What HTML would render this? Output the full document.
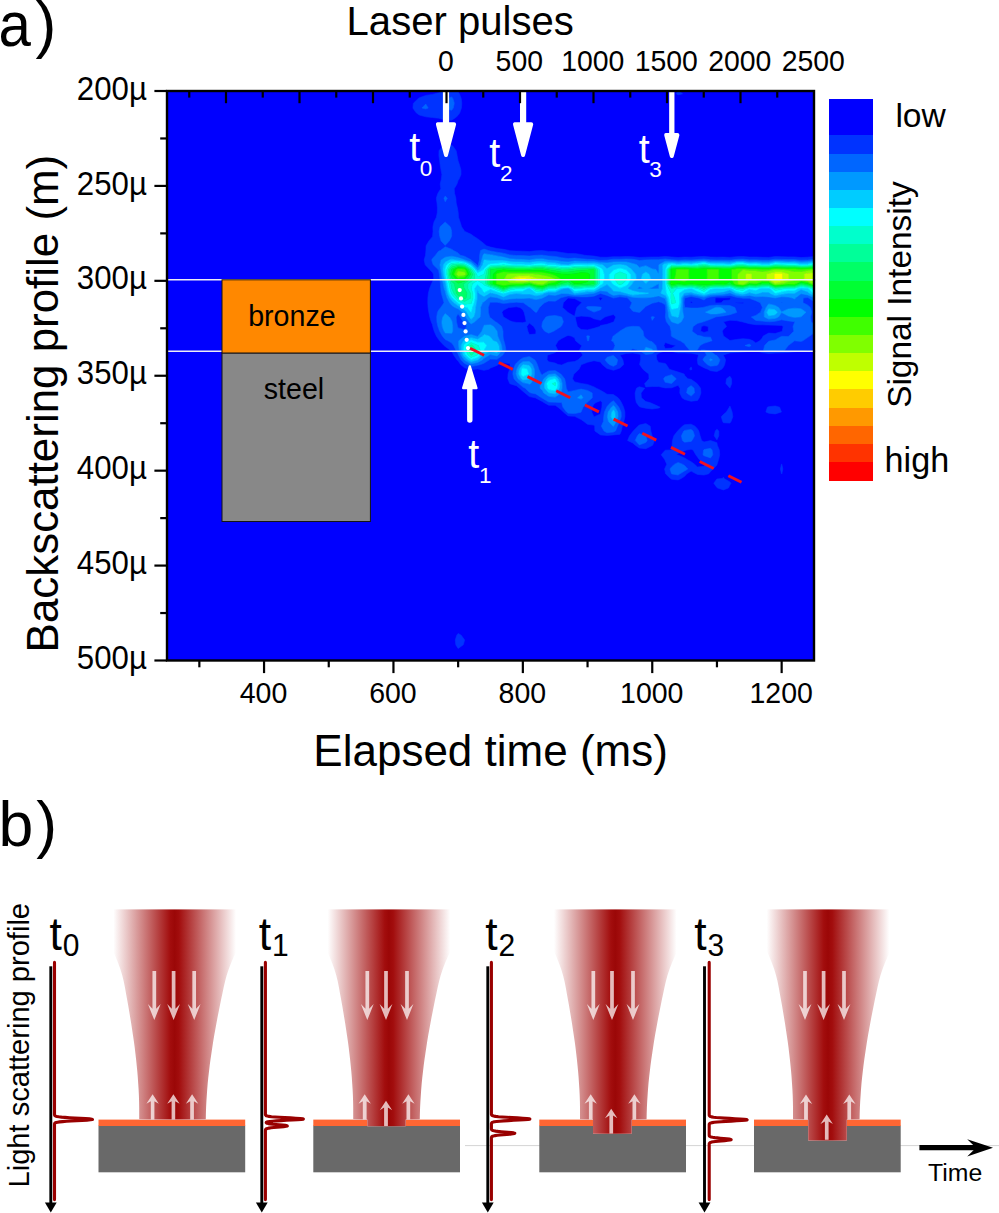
<!DOCTYPE html>
<html lang="en">
<head>
<meta charset="utf-8">
<title>Laser drilling backscattering figure</title>
<style>
html,body{margin:0;padding:0;background:#fff;}
body{width:999px;height:1213px;overflow:hidden;}
svg{display:block;}
text{font-family:"Liberation Sans", Arial, Helvetica, sans-serif;}
</style>
</head>
<body>
<svg width="999" height="1213" viewBox="0 0 999 1213">
<rect x="167.0" y="91.0" width="647.0" height="569.5" fill="#0000ff"/>
<clipPath id="plotclip"><rect x="167.0" y="91.0" width="647.0" height="569.5"/></clipPath>
<g clip-path="url(#plotclip)" fill-rule="evenodd" stroke-width="0.6" stroke-linejoin="round">
<path fill="#0033ff" stroke="#0033ff" d="M438.7,92.7 445.1,89.0 445.2,89.0 451.7,89.0 455.0,89.0 458.1,91.8 459.4,93.8 461.2,98.5 461.8,103.2 461.4,108.0 459.8,112.8 458.1,115.3 455.8,117.5 451.7,120.2 445.2,119.9 438.7,118.2 432.3,117.5 432.3,117.5 425.8,116.8 419.3,115.0 416.2,112.8 412.9,108.0 412.8,108.0 412.9,107.9 413.4,103.2 418.3,98.5 419.3,97.8 425.8,95.4 432.3,94.4 434.9,93.8ZM447.9,98.5 445.2,100.7 443.4,103.2 444.4,108.0 445.2,108.6 451.7,110.3 453.3,108.0 454.3,103.2 452.9,98.5 451.7,96.9ZM421.9,108.0 425.8,109.0 428.2,108.0 425.8,104.0ZM678.1,90.3 682.6,93.8 678.1,94.9 676.3,93.8ZM445.2,144.5 451.7,145.2 452.8,146.0 456.2,150.8 457.1,155.5 458.0,160.2 458.1,160.8 459.5,165.0 460.9,169.8 461.0,174.5 459.0,179.2 458.1,180.6 457.0,184.0 454.2,188.8 454.6,193.5 455.9,198.2 456.2,203.0 457.4,207.8 458.1,212.0 458.2,212.5 458.5,217.2 460.1,222.0 461.6,226.8 464.6,231.2 465.0,231.5 471.1,234.3 473.8,236.3 477.6,238.7 480.7,241.0 484.0,243.7 486.4,245.8 490.5,247.1 497.0,248.5 503.4,249.3 509.2,250.5 509.9,250.7 516.4,251.1 522.8,251.2 529.3,251.6 535.8,250.8 542.3,250.6 548.7,251.4 555.2,251.5 561.7,252.5 568.1,253.5 574.6,253.4 581.1,254.5 584.5,255.2 587.5,255.6 594.0,256.1 600.5,257.2 607.0,257.3 613.4,256.7 619.9,256.8 626.4,256.5 632.8,256.7 639.3,257.5 645.8,257.2 652.2,257.0 658.7,257.0 665.2,256.5 671.7,257.0 678.1,257.5 684.6,257.1 691.1,257.2 697.5,256.8 704.0,256.4 710.5,257.1 716.9,257.2 723.4,257.1 729.9,257.4 736.4,256.7 742.8,256.5 749.3,257.1 755.8,257.0 762.2,257.3 768.7,257.4 775.2,256.6 781.6,256.7 788.1,256.9 794.6,256.9 801.1,257.6 807.5,257.2 814.0,256.6 817.6,260.0 819.4,264.8 819.9,269.5 820.0,274.2 820.0,279.0 820.0,283.8 819.5,288.5 820.5,290.2 820.5,291.9 818.5,288.5 819.4,283.8 819.5,279.0 819.5,274.2 819.4,269.5 818.4,264.8 814.8,260.0 814.0,259.3 807.7,260.0 807.5,260.0 801.1,260.2 798.0,260.0 794.6,259.6 788.1,259.6 781.6,259.4 775.2,259.2 769.9,260.0 768.7,260.1 762.2,260.1 760.1,260.0 755.8,259.7 749.3,259.8 742.8,259.1 736.4,259.3 731.3,260.0 729.9,260.1 725.6,260.0 723.4,259.9 716.9,260.0 710.5,259.8 704.0,259.0 697.5,259.5 691.1,260.0 684.6,259.8 682.0,260.0 678.1,260.2 675.3,260.0 671.7,259.7 665.2,259.0 658.7,259.7 652.2,259.7 645.8,259.9 644.4,260.0 639.3,260.6 637.2,260.0 632.8,259.3 626.4,259.0 619.9,259.3 613.4,259.2 608.2,260.0 607.0,260.2 600.5,260.4 596.3,260.0 594.0,259.6 587.5,259.3 581.1,258.7 574.6,258.1 568.1,258.6 561.7,257.7 555.2,256.4 548.7,256.0 543.0,255.2 542.3,255.1 537.9,255.2 535.8,255.3 529.3,256.0 522.8,255.6 516.4,255.5 513.7,255.2 509.9,254.9 503.4,253.2 497.0,252.2 490.5,251.0 488.6,250.5 484.0,249.1 480.5,250.5 479.6,255.2 479.5,260.0 478.1,264.8 477.6,265.4 477.0,264.8 471.2,260.0 471.1,259.8 464.6,256.3 460.4,255.2 458.1,252.9 453.6,250.5 451.7,249.2 445.2,246.8 440.4,250.5 438.7,251.0 435.4,255.2 432.3,258.7 431.7,260.0 432.3,262.0 433.2,264.8 438.1,269.5 438.7,270.4 439.4,274.2 439.9,279.0 440.4,283.8 440.7,288.5 441.3,293.2 442.7,298.0 444.0,302.8 440.7,307.5 438.7,310.0 437.5,312.2 436.7,317.0 436.9,321.8 437.9,326.5 438.7,328.7 439.6,331.2 442.3,336.0 445.2,339.5 447.9,340.8 451.7,343.0 453.5,345.5 455.9,350.2 458.1,353.9 458.5,355.0 460.9,359.8 464.6,363.5 466.7,364.5 471.1,366.5 477.6,365.3 480.7,364.5 484.0,363.2 489.4,359.8 490.5,359.1 497.0,359.3 502.9,355.0 503.4,354.1 505.9,350.2 505.2,345.5 503.9,340.8 503.4,338.9 503.0,336.0 503.0,331.2 501.7,326.5 497.0,322.6 495.5,321.8 490.5,317.8 489.6,317.0 488.4,312.2 488.3,307.5 489.9,302.8 490.5,302.3 497.0,302.2 499.8,302.8 503.4,303.5 509.9,302.8 510.1,302.8 516.4,302.2 522.8,302.7 523.3,302.8 529.3,307.0 530.1,307.5 535.4,312.2 535.8,312.6 536.7,312.2 539.5,307.5 542.3,304.7 544.7,302.8 548.7,301.0 555.2,301.2 560.6,298.0 561.7,297.6 568.1,295.9 574.6,296.6 581.1,296.9 587.5,296.9 594.0,296.2 600.5,293.4 607.0,295.4 613.4,298.0 619.9,296.8 626.4,297.6 627.7,298.0 631.9,302.8 629.8,307.5 632.8,311.2 637.7,312.2 639.3,312.4 640.0,312.2 644.9,307.5 645.8,306.4 652.2,303.2 654.3,302.8 658.7,301.7 661.9,302.8 665.2,304.7 665.6,307.5 665.7,312.3 665.3,317.0 666.4,321.8 670.0,326.5 671.1,331.2 671.3,336.0 671.7,336.5 678.1,340.1 680.2,340.8 684.6,343.7 685.6,345.5 689.6,350.2 691.1,350.5 696.3,350.2 697.5,349.7 700.0,345.5 704.0,343.3 710.5,341.2 712.0,340.8 710.5,337.2 704.0,337.0 701.5,336.0 697.5,335.3 692.1,331.2 693.1,326.5 697.5,323.4 703.5,321.8 704.0,321.6 710.5,319.2 715.6,317.0 716.9,316.7 723.4,315.9 729.9,314.7 736.4,312.6 736.9,312.2 736.4,311.3 734.9,307.5 729.9,305.6 723.4,305.2 717.0,305.1 710.5,305.4 704.0,307.2 702.3,307.5 697.5,308.1 691.1,308.1 685.7,307.5 684.6,307.2 684.1,302.8 684.6,298.2 684.7,298.0 691.1,296.5 697.5,297.7 699.1,298.0 704.0,300.0 706.7,298.0 710.5,296.9 716.9,296.2 723.4,296.1 729.9,295.4 736.4,297.3 741.8,298.0 742.8,298.3 749.3,298.3 755.8,300.7 760.3,302.8 762.2,306.9 762.3,307.5 762.2,308.0 760.5,312.2 755.8,315.4 751.3,317.0 755.8,320.4 762.2,321.1 768.3,321.8 768.7,321.8 769.0,321.8 775.2,321.3 781.6,319.8 788.1,320.9 794.6,321.7 795.2,321.8 794.6,322.3 793.0,326.5 793.8,331.2 789.0,336.0 788.1,336.6 781.6,336.3 775.2,339.9 771.0,340.8 768.7,341.3 764.6,345.5 763.5,350.2 768.7,351.5 775.2,351.1 781.6,350.6 784.8,350.2 788.1,345.8 788.3,345.5 794.6,340.8 801.1,341.4 802.8,340.8 807.5,337.6 809.8,336.0 814.0,333.0 817.0,331.2 818.1,326.5 814.0,323.9 811.1,321.8 810.5,317.0 811.7,312.2 810.4,307.5 807.5,304.9 803.0,302.8 803.2,298.0 807.5,297.6 808.5,298.0 814.0,301.6 820.5,301.2 820.5,302.8 820.5,307.5 820.5,309.5 819.5,312.2 820.0,317.0 820.5,317.6 820.5,321.8 820.5,326.5 820.5,331.2 820.5,336.0 820.5,340.8 820.5,345.5 820.5,350.2 820.5,350.9 814.0,350.6 807.5,350.3 801.1,351.2 794.6,351.8 788.1,352.4 781.6,352.8 775.2,353.0 768.7,353.4 762.2,352.6 755.8,350.5 749.3,351.4 742.8,352.1 736.4,352.4 729.9,352.9 723.4,354.9 723.3,355.0 723.4,355.3 725.6,359.8 724.7,364.5 723.4,367.2 721.7,369.2 716.9,371.6 710.5,370.7 707.7,369.2 704.0,367.8 698.0,364.5 697.5,361.4 697.3,359.8 697.5,359.1 698.5,355.0 697.5,354.4 691.1,353.2 684.6,352.9 678.1,352.9 671.7,351.4 665.2,350.8 658.7,353.2 656.2,355.0 656.9,359.8 658.7,362.6 665.2,363.4 666.3,364.5 669.3,369.2 671.7,370.0 678.1,372.0 684.1,374.0 684.6,375.3 687.8,378.8 691.1,379.3 697.0,383.5 697.5,384.1 700.5,388.2 700.9,393.0 699.3,397.8 697.5,400.4 691.1,401.3 684.6,399.5 682.0,397.8 679.8,393.0 680.0,388.2 678.1,385.3 671.7,387.8 665.2,387.9 658.7,386.5 652.2,386.5 645.8,386.9 644.6,383.5 645.8,382.6 649.0,378.8 648.8,374.0 645.8,371.7 642.9,369.2 639.6,364.5 640.6,359.8 640.7,355.0 639.3,354.1 632.8,353.0 626.4,353.4 619.9,355.0 622.9,359.8 623.7,364.5 619.9,368.1 616.7,369.2 613.4,370.3 610.0,369.2 607.0,368.5 602.2,364.5 600.5,362.0 594.0,360.7 587.5,362.3 581.7,364.5 581.1,365.1 579.0,369.2 574.6,373.6 573.8,374.0 572.5,378.8 574.6,381.9 581.1,383.4 581.4,383.5 587.5,384.4 594.0,386.9 596.3,388.2 600.5,390.3 605.2,393.0 607.0,394.3 613.4,394.6 618.1,397.8 619.9,400.0 621.4,402.5 623.6,407.2 624.9,412.0 624.9,416.8 623.8,421.5 622.3,426.2 621.3,431.0 619.9,434.3 613.4,434.9 607.0,435.4 600.5,434.9 594.9,431.0 594.7,426.2 594.0,425.1 587.5,424.3 583.9,421.5 581.1,419.5 575.6,416.8 574.6,416.3 568.1,415.9 563.3,412.0 561.7,410.3 557.9,407.2 555.2,405.3 548.7,405.2 543.8,402.5 542.3,401.5 535.8,398.1 535.2,397.8 529.3,396.6 525.0,393.0 522.8,391.2 519.5,388.2 516.4,385.7 509.9,383.7 509.7,383.5 507.8,378.8 508.1,374.0 509.6,369.2 509.9,367.0 510.0,364.5 509.9,363.8 503.4,362.7 498.3,364.5 497.0,365.4 490.5,368.0 489.0,369.2 484.0,370.3 478.9,369.2 477.6,369.0 475.3,369.2 471.1,370.0 469.3,369.2 464.6,367.8 460.6,364.5 458.2,361.1 456.9,359.8 453.6,355.0 451.7,351.2 450.4,350.2 445.2,346.5 444.0,345.5 439.6,340.8 438.7,339.5 436.3,336.0 434.2,331.2 432.8,326.5 432.3,324.3 431.2,321.8 429.8,317.0 428.8,312.2 428.1,307.5 427.8,302.8 427.9,298.0 428.4,293.2 429.6,288.5 431.5,283.8 432.3,282.1 433.7,279.0 433.5,274.2 432.3,272.3 429.7,269.5 425.8,265.5 425.2,264.8 424.2,260.0 425.5,255.2 425.8,252.1 425.9,250.5 426.1,245.8 428.9,241.0 432.3,236.9 432.6,236.2 433.0,231.5 432.9,226.8 434.0,222.0 436.4,217.2 437.3,212.5 437.4,207.8 437.0,203.0 436.3,198.2 437.8,193.5 438.7,192.0 440.8,188.8 440.2,184.0 441.3,179.2 441.9,174.5 441.0,169.8 440.2,165.0 439.6,160.2 438.9,155.5 439.0,150.8 442.6,146.0ZM443.9,198.2 445.2,201.8 447.4,198.2 445.2,196.1ZM440.0,226.8 439.1,231.5 439.7,236.2 441.1,241.0 445.2,245.4 449.3,241.0 451.7,236.2 451.7,234.8 451.7,231.5 451.7,231.3 450.4,226.8 445.2,222.0ZM598.5,298.0 600.5,300.8 602.6,298.0 600.5,297.3ZM715.1,298.0 715.2,302.8 716.9,302.9 721.2,302.8 723.4,300.6 729.9,299.9 730.6,298.0 729.9,297.8 723.4,297.9 716.9,297.8ZM563.3,302.8 562.6,307.5 567.8,312.2 568.1,312.5 574.6,316.3 575.5,312.2 576.8,307.5 581.1,303.3 582.0,302.8 581.1,302.1 574.6,298.6 568.1,298.0ZM690.4,302.8 691.1,303.1 692.8,302.8 691.1,301.3ZM734.9,302.8 736.4,302.9 742.8,303.5 744.0,302.8 742.8,302.5 736.4,302.5ZM508.8,307.5 503.4,310.3 501.9,312.2 503.4,316.8 503.6,317.0 509.9,320.8 512.7,321.8 516.4,322.4 522.8,322.7 526.2,321.8 525.3,317.0 524.1,312.2 522.8,309.7 520.0,307.5 516.4,306.8 509.9,307.4ZM586.2,307.5 587.5,309.1 594.0,312.1 600.5,309.8 601.4,307.5 600.5,307.1 594.0,306.4 587.5,306.6ZM754.1,307.5 755.8,307.6 755.8,307.5 755.8,307.4ZM545.9,317.0 542.6,321.8 542.3,322.9 541.8,326.5 542.3,327.9 544.6,331.2 548.7,333.2 553.7,331.2 555.2,330.3 561.1,326.5 561.7,325.7 563.4,321.8 561.7,317.0 561.7,317.0 555.2,315.4 548.7,316.1ZM575.2,317.0 576.2,321.8 577.4,326.5 581.1,329.6 587.5,329.9 594.0,328.3 599.7,326.5 600.5,325.5 607.0,324.3 613.4,322.1 613.8,321.8 615.8,317.0 613.4,314.5 607.0,316.3 604.9,317.0 600.5,320.3 594.0,318.8 590.5,317.0 587.5,316.5 581.1,316.1ZM651.2,317.0 652.2,320.4 654.5,317.0 652.2,316.5ZM723.5,321.8 726.6,326.5 723.4,329.3 722.3,331.2 723.4,335.8 723.5,336.0 729.9,340.5 736.4,339.5 742.8,338.7 749.3,339.3 753.0,340.8 755.8,343.0 759.8,340.8 762.2,338.1 763.2,336.0 768.7,333.1 775.2,333.5 781.6,331.5 782.2,331.2 783.2,326.5 781.6,325.5 775.2,325.2 768.7,325.0 762.2,324.8 755.8,324.7 749.3,323.7 742.8,321.9 741.9,321.8 736.4,320.6 729.9,320.2ZM526.8,326.5 527.9,331.2 529.3,334.6 535.8,334.0 535.9,331.2 535.8,330.1 533.7,326.5 529.3,323.0ZM630.6,326.5 626.4,327.2 619.9,331.1 619.8,331.2 613.4,335.9 613.1,336.0 611.5,340.8 613.4,341.7 615.0,345.5 613.4,349.8 612.1,350.2 613.4,351.1 619.9,351.0 626.4,350.7 630.2,350.2 632.8,348.8 638.2,350.2 639.3,350.4 645.8,354.6 652.2,353.7 657.1,350.2 655.9,345.5 652.2,341.7 649.1,340.8 645.8,338.3 643.8,336.0 643.1,331.2 639.3,326.5 638.6,326.5 632.8,326.3ZM701.4,326.5 700.7,331.2 704.0,332.4 708.3,331.2 708.2,326.5 704.0,325.6ZM566.6,336.0 561.7,338.5 558.2,340.8 555.5,345.5 557.8,350.2 555.2,352.6 548.7,354.7 547.4,355.0 547.1,359.8 548.7,361.8 555.2,363.1 558.0,364.5 561.7,365.1 562.8,364.5 568.1,362.2 574.6,361.5 578.2,359.8 581.1,356.9 582.9,355.0 581.1,352.6 579.4,350.2 581.1,347.0 581.8,345.5 581.1,345.2 575.6,340.8 574.6,337.8 571.1,336.0 568.1,335.4ZM586.7,336.0 587.5,340.8 587.5,340.8 588.6,340.8 589.5,336.0 587.5,335.7ZM663.9,345.5 665.2,348.5 671.7,348.1 676.1,345.5 671.7,344.7 665.2,342.5ZM745.0,345.5 749.3,346.8 751.1,345.5 749.3,344.1ZM701.0,350.2 704.0,350.6 706.6,355.0 704.0,357.5 702.9,359.8 704.0,361.4 707.2,364.5 710.5,366.2 716.9,365.5 718.2,364.5 720.0,359.8 716.9,355.6 715.4,355.0 710.5,351.2 705.2,350.2 704.0,349.9ZM520.0,359.8 516.4,363.0 515.3,364.5 513.4,369.2 512.8,374.0 514.0,378.8 516.4,381.4 518.8,383.5 522.8,387.0 525.2,388.2 529.3,392.2 531.1,393.0 535.8,393.9 541.5,397.8 542.3,398.2 548.7,402.0 555.2,402.3 561.3,402.5 561.7,402.6 562.9,407.2 566.6,412.0 568.1,413.2 574.6,413.6 581.1,412.2 581.1,412.0 583.1,407.2 587.0,402.5 587.5,402.1 592.3,397.7 592.2,393.0 587.5,390.4 581.1,389.1 574.6,390.4 568.1,391.9 566.3,388.2 565.7,383.5 564.7,378.8 561.7,374.9 560.8,374.0 555.2,370.6 548.7,370.9 543.1,374.0 542.3,374.9 541.0,374.0 538.9,369.2 537.4,364.5 535.8,361.3 534.7,359.8 529.3,356.5 522.8,357.9ZM605.1,359.8 607.0,362.4 609.1,364.5 613.4,366.3 616.6,364.5 617.7,359.8 613.4,355.4 607.0,357.3ZM663.5,378.8 665.2,382.3 671.5,383.5 671.7,383.5 671.7,383.5 676.4,378.8 671.7,374.7 665.2,376.7ZM687.5,388.2 686.6,393.0 691.1,396.1 694.5,393.0 694.1,388.2 691.1,385.6ZM596.0,402.5 594.0,403.9 592.2,407.2 591.7,412.0 593.9,416.8 594.0,416.8 594.3,416.8 600.5,414.0 600.8,412.0 601.9,407.2 602.1,402.5 600.5,400.7ZM610.7,402.5 607.0,406.6 606.7,407.2 604.5,412.0 603.7,416.8 603.4,421.5 601.3,426.2 604.0,431.0 607.0,432.7 613.4,432.1 615.5,431.0 617.5,426.2 619.5,421.5 619.9,420.3 621.3,416.8 621.1,412.0 619.9,409.4 618.9,407.2 615.2,402.5 613.4,400.8ZM781.6,302.4 782.4,302.8 781.6,303.0 781.1,302.8ZM458.1,313.8 460.2,317.0 463.2,321.8 464.6,323.4 466.6,326.5 464.6,329.7 458.1,327.9 457.6,326.5 456.5,321.8 456.2,317.0ZM691.1,366.9 691.9,369.2 691.1,370.1 689.6,369.2ZM729.9,376.2 731.5,378.8 731.7,383.5 729.9,388.1 725.9,383.5 726.5,378.8ZM639.3,386.8 644.7,388.2 641.0,393.0 641.4,397.8 645.8,401.6 649.8,402.5 652.2,403.6 658.7,406.5 660.2,407.2 658.7,408.1 652.2,409.0 645.8,408.2 641.0,407.2 639.3,406.6 636.3,402.5 635.4,397.8 635.1,393.0 636.5,388.2ZM729.9,406.1 730.4,407.2 732.1,412.0 732.8,416.8 731.0,421.5 729.9,423.1 723.4,422.7 722.7,421.5 721.3,416.8 723.4,414.6 726.4,412.0 729.3,407.2ZM768.7,406.7 775.2,406.0 779.6,407.2 781.4,412.0 775.2,413.9 768.7,413.2 765.9,412.0 767.4,407.2ZM639.3,425.1 645.8,423.5 650.2,426.2 650.8,431.0 652.1,435.8 652.2,436.2 654.5,440.5 652.6,445.3 652.2,445.5 645.8,448.7 639.3,448.0 635.3,445.2 632.8,443.0 627.6,440.5 629.6,435.8 632.8,431.6 633.3,431.0 637.9,426.2ZM637.4,435.8 635.2,440.5 639.3,444.9 645.8,442.5 647.2,440.5 645.9,435.8 645.8,435.6 639.3,433.6ZM684.6,424.7 691.1,424.2 695.0,426.2 697.5,428.9 698.8,431.0 700.1,435.8 701.6,440.5 704.0,442.0 710.5,440.6 716.9,442.7 717.3,445.2 719.3,450.0 719.7,454.8 718.6,459.5 717.1,464.2 716.9,465.1 713.2,469.0 710.5,471.7 708.7,473.8 704.0,475.0 697.5,474.4 696.2,473.8 691.1,471.1 686.8,473.8 684.6,476.3 681.2,478.5 678.1,479.9 671.7,479.3 670.4,478.5 665.6,473.8 665.2,471.6 664.6,469.0 665.2,467.8 666.8,464.2 665.2,460.7 664.7,459.5 661.2,454.8 665.2,450.2 671.5,450.0 671.7,450.0 672.1,445.2 672.5,440.5 673.9,435.8 677.6,431.0 678.1,430.5 682.3,426.2ZM683.8,431.0 681.4,435.8 682.4,440.5 684.6,442.2 691.1,441.4 692.1,440.5 694.6,435.8 693.0,431.0 691.1,429.4 684.6,430.4ZM686.5,450.0 684.6,450.7 678.1,453.4 676.0,454.8 678.1,455.1 684.6,457.9 687.0,459.5 691.1,461.7 694.5,464.2 697.5,467.0 704.0,466.3 705.6,464.2 704.0,463.5 699.2,459.5 697.5,457.0 695.8,454.8 693.1,450.0 691.1,449.2ZM703.6,450.0 703.0,454.8 704.0,455.7 710.5,457.9 712.8,454.8 712.1,450.0 710.5,448.3 704.0,449.6ZM674.6,464.2 671.7,466.7 670.0,469.0 671.5,473.8 671.7,473.9 678.1,475.0 679.9,473.8 684.6,471.0 687.8,469.0 684.6,465.6 682.5,464.2 678.1,462.5ZM716.9,429.2 718.8,431.0 718.8,435.8 716.9,439.8 714.2,435.8 715.3,431.0ZM781.6,464.0 781.8,464.2 782.8,469.0 781.8,473.8 781.6,474.0 781.5,473.8 780.4,469.0 781.5,464.2ZM723.4,477.3 723.9,478.5 729.9,481.9 731.0,483.2 729.9,485.0 728.4,488.0 723.4,489.9 717.7,488.0 716.9,487.5 713.8,483.2 716.9,479.0 722.2,478.5ZM458.1,633.5 461.2,635.2 464.6,640.0 463.3,644.8 458.1,648.5 455.8,644.8 455.3,640.0 456.8,635.2Z"/>
<path fill="#0066ff" stroke="#0066ff" d="M451.7,96.9 452.9,98.5 454.3,103.2 453.3,108.0 451.7,110.3 445.2,108.6 444.4,108.0 443.4,103.2 445.2,100.7 447.9,98.5ZM425.8,104.0 428.2,108.0 425.8,109.0 421.9,108.0ZM445.2,196.1 447.4,198.2 445.2,201.8 443.9,198.2ZM445.2,222.0 450.4,226.8 451.7,231.3 451.7,231.5 451.7,234.8 451.7,236.2 449.3,241.0 445.2,245.4 441.1,241.0 439.7,236.2 439.1,231.5 440.0,226.8ZM445.2,246.8 451.7,249.2 453.6,250.5 458.1,252.9 460.4,255.2 464.6,256.3 471.1,259.8 471.2,260.0 477.0,264.8 477.6,265.4 478.1,264.8 479.5,260.0 479.6,255.2 480.5,250.5 484.0,249.1 488.6,250.5 490.5,251.0 497.0,252.2 503.4,253.2 509.9,254.9 513.7,255.2 516.4,255.5 522.8,255.6 529.3,256.0 535.8,255.3 537.9,255.2 542.3,255.1 543.0,255.2 548.7,256.0 555.2,256.4 561.7,257.7 568.1,258.6 574.6,258.1 581.1,258.7 587.5,259.3 594.0,259.6 596.3,260.0 600.5,260.4 607.0,260.2 608.2,260.0 613.4,259.2 619.9,259.3 626.4,259.0 632.8,259.3 637.2,260.0 639.3,260.6 644.4,260.0 645.8,259.9 652.2,259.7 658.7,259.7 665.2,259.0 671.7,259.7 675.3,260.0 678.1,260.2 682.0,260.0 684.6,259.8 691.1,260.0 697.5,259.5 704.0,259.0 710.5,259.8 716.9,260.0 723.4,259.9 725.6,260.0 729.9,260.1 731.3,260.0 736.4,259.3 742.8,259.1 749.3,259.8 755.8,259.7 760.1,260.0 762.2,260.1 768.7,260.1 769.9,260.0 775.2,259.2 781.6,259.4 788.1,259.6 794.6,259.6 798.0,260.0 801.1,260.2 807.5,260.0 807.7,260.0 814.0,259.3 814.8,260.0 818.4,264.8 819.4,269.5 819.5,274.2 819.5,279.0 819.4,283.8 818.5,288.5 820.5,291.9 820.5,293.2 820.5,298.0 820.5,301.2 814.0,301.6 808.5,298.0 807.5,297.6 803.2,298.0 803.0,302.8 807.5,304.9 810.4,307.5 811.7,312.2 810.5,317.0 811.1,321.8 814.0,323.9 818.1,326.5 817.0,331.2 814.0,333.0 809.8,336.0 807.5,337.6 802.8,340.8 801.1,341.4 794.6,340.8 788.3,345.5 788.1,345.8 784.8,350.2 781.6,350.6 775.2,351.1 768.7,351.5 763.5,350.2 764.6,345.5 768.7,341.3 771.0,340.8 775.2,339.9 781.6,336.3 788.1,336.6 789.0,336.0 793.8,331.2 793.0,326.5 794.6,322.3 795.2,321.8 794.6,321.7 788.1,320.9 781.6,319.8 775.2,321.3 769.0,321.8 768.7,321.8 768.3,321.8 762.2,321.1 755.8,320.4 751.3,317.0 755.8,315.4 760.5,312.2 762.2,308.0 762.3,307.5 762.2,306.9 760.3,302.8 755.8,300.7 749.3,298.3 742.8,298.3 741.8,298.0 736.4,297.3 729.9,295.4 723.4,296.1 716.9,296.2 710.5,296.9 706.7,298.0 704.0,300.0 699.1,298.0 697.5,297.7 691.1,296.5 684.7,298.0 684.6,298.2 684.1,302.8 684.6,307.2 685.7,307.5 691.1,308.1 697.5,308.1 702.3,307.5 704.0,307.2 710.5,305.4 716.9,305.1 723.4,305.2 729.9,305.6 734.9,307.5 736.4,311.3 736.9,312.2 736.4,312.6 729.9,314.7 723.4,315.9 716.9,316.7 715.6,317.0 710.5,319.2 704.0,321.6 703.5,321.8 697.5,323.4 693.1,326.5 692.1,331.3 697.5,335.3 701.5,336.0 704.0,337.0 710.5,337.2 712.0,340.8 710.5,341.2 704.0,343.3 700.0,345.5 697.5,349.7 696.3,350.2 691.1,350.5 689.6,350.2 685.6,345.5 684.6,343.7 680.2,340.8 678.1,340.1 671.7,336.5 671.3,336.0 671.1,331.2 670.0,326.5 666.4,321.8 665.3,317.0 665.7,312.2 665.6,307.5 665.2,304.7 661.9,302.8 658.7,301.7 654.3,302.8 652.2,303.2 645.8,306.4 644.9,307.5 640.0,312.2 639.3,312.4 637.7,312.2 632.8,311.2 629.8,307.5 631.9,302.8 627.7,298.0 626.4,297.6 619.9,296.8 613.4,298.0 607.0,295.4 600.5,293.4 594.0,296.2 587.5,296.9 581.1,296.9 574.6,296.6 568.1,295.9 561.7,297.6 560.6,298.0 555.2,301.2 548.7,301.0 544.7,302.8 542.3,304.7 539.5,307.5 536.7,312.2 535.8,312.6 535.4,312.2 530.1,307.5 529.3,307.0 523.3,302.8 522.8,302.7 516.4,302.2 510.1,302.8 509.9,302.8 503.4,303.5 499.8,302.8 497.0,302.2 490.5,302.3 489.9,302.8 488.3,307.5 488.4,312.2 489.6,317.0 490.5,317.8 495.5,321.8 497.0,322.6 501.7,326.5 503.0,331.2 503.0,336.0 503.4,338.9 503.9,340.8 505.2,345.5 505.9,350.2 503.4,354.1 502.9,355.0 497.0,359.3 490.5,359.1 489.4,359.8 484.0,363.2 480.7,364.5 477.6,365.3 471.1,366.5 466.7,364.5 464.6,363.5 460.9,359.8 458.5,355.0 458.1,353.9 455.9,350.2 453.5,345.5 451.7,343.0 447.9,340.8 445.2,339.5 442.3,336.0 439.6,331.2 438.7,328.7 437.9,326.5 436.9,321.8 436.7,317.0 437.5,312.2 438.7,310.0 440.7,307.5 444.0,302.8 442.7,298.0 441.3,293.2 440.7,288.5 440.4,283.8 439.9,279.0 439.4,274.2 438.7,270.4 438.1,269.5 433.2,264.8 432.3,262.0 431.7,260.0 432.3,258.7 435.4,255.2 438.7,251.0 440.4,250.5ZM483.0,255.2 481.7,260.0 480.3,264.8 477.6,268.1 474.4,264.8 471.1,262.0 465.0,260.0 464.6,259.8 458.1,257.6 451.7,256.2 445.2,257.3 441.1,260.0 439.9,264.8 440.7,269.5 441.4,274.2 442.2,279.0 443.2,283.8 444.2,288.5 445.2,291.3 445.6,293.2 447.1,298.0 449.7,302.8 451.7,305.4 454.9,307.5 458.1,308.8 462.2,312.2 464.6,315.1 465.7,317.0 468.9,321.8 471.1,323.9 474.9,321.8 477.6,319.1 480.1,317.0 480.6,312.2 480.5,307.5 482.5,302.8 484.0,301.7 488.4,298.0 490.5,296.8 497.0,297.7 497.8,298.0 503.4,300.1 509.9,298.9 516.4,298.4 522.8,298.5 529.3,298.1 535.8,299.6 542.3,298.2 542.6,298.0 548.7,294.8 555.2,295.4 561.7,293.5 568.1,293.7 574.6,295.0 581.1,294.7 587.5,294.0 594.0,293.3 594.1,293.2 600.5,290.7 607.0,291.4 609.1,293.2 613.4,295.4 619.9,294.4 626.4,295.5 632.8,297.3 639.3,297.7 645.8,297.8 652.2,297.2 658.7,295.9 664.0,298.0 665.2,298.6 666.5,302.8 667.4,307.5 668.2,312.2 668.7,317.0 671.5,321.8 671.7,321.9 678.1,323.9 681.3,321.8 683.8,317.0 682.9,312.2 682.5,307.5 682.5,302.8 682.8,298.0 684.6,295.6 691.1,294.6 697.5,295.8 704.0,297.1 710.5,295.1 716.9,294.7 723.4,294.3 728.8,293.2 729.9,292.9 730.5,293.2 736.4,295.5 742.8,296.2 749.3,295.4 755.8,296.8 762.2,296.5 768.7,296.9 775.2,297.9 781.6,296.7 788.1,297.0 792.5,298.0 794.6,299.0 795.4,298.0 801.1,293.7 807.5,294.9 814.0,297.6 819.9,293.2 817.5,288.5 818.9,283.8 819.0,279.0 819.0,274.2 818.8,269.5 817.4,264.8 814.0,260.8 807.5,261.6 801.1,261.9 794.6,261.1 788.1,261.2 781.6,260.9 775.2,260.8 768.7,261.7 762.2,261.7 755.8,261.2 749.3,261.4 742.8,260.8 736.4,260.9 729.9,261.7 723.4,261.5 717.0,261.6 710.5,261.4 704.0,260.7 697.5,261.1 691.1,261.6 684.6,261.4 678.1,261.8 671.7,261.2 665.2,261.3 658.8,264.8 658.8,269.5 658.7,274.2 658.7,275.4 658.7,274.2 656.1,269.5 652.2,268.9 645.8,265.7 639.3,267.4 636.9,264.8 632.8,263.5 626.4,262.0 619.9,261.9 613.4,262.0 607.0,262.9 600.5,262.4 594.0,261.6 587.5,261.6 581.1,261.3 574.6,261.1 568.1,262.0 561.7,261.5 555.2,260.4 548.7,260.1 548.3,260.0 542.3,258.8 535.8,259.0 529.6,260.0 529.3,260.0 528.8,260.0 522.8,259.5 516.4,259.3 509.9,258.8 503.4,257.1 497.0,255.9 493.8,255.2 490.5,254.7 484.0,253.7ZM781.1,302.8 781.6,303.0 782.4,302.8 781.6,302.4ZM715.3,307.5 710.5,309.8 705.5,312.2 710.5,313.9 716.9,313.9 723.4,312.8 726.0,312.2 723.4,309.0 720.5,307.5 716.9,307.2ZM766.1,307.5 764.2,312.2 764.3,317.0 768.7,319.1 775.2,318.4 778.5,317.0 781.6,312.5 788.1,316.0 792.2,317.0 794.6,317.4 799.1,317.0 801.1,316.8 806.0,312.2 801.1,308.8 794.6,308.2 788.1,309.0 781.6,311.9 778.7,307.5 775.2,305.5 768.7,303.9ZM442.8,317.0 441.8,321.8 442.3,326.5 444.1,331.2 445.2,332.9 451.7,333.3 452.7,331.2 452.7,326.5 452.0,321.8 451.7,320.7 449.4,317.0 445.2,313.6ZM456.2,317.0 456.5,321.8 457.6,326.5 458.1,327.9 464.6,329.7 466.6,326.5 464.6,323.4 463.2,321.8 460.2,317.0 458.1,313.8ZM483.6,326.5 481.8,331.2 478.1,336.0 477.6,336.4 475.7,336.0 471.1,334.6 464.9,336.0 464.6,336.1 458.7,340.8 458.6,345.5 459.3,350.3 460.8,355.0 464.1,359.8 464.6,360.3 471.1,363.8 477.6,362.5 482.5,359.8 484.0,358.2 489.5,355.0 490.5,354.6 492.6,355.0 497.0,355.9 498.2,355.0 502.1,350.2 501.6,345.5 499.8,340.8 497.7,336.0 497.1,331.2 497.0,331.0 493.6,326.5 490.5,324.8 484.0,325.3ZM658.7,280.7 658.8,283.8 658.8,288.5 658.7,288.7 652.2,289.0 648.5,288.5 652.2,287.3 658.5,283.8ZM639.3,286.7 643.4,288.5 639.3,288.9 637.3,288.5ZM587.5,306.6 594.0,306.4 600.5,307.1 601.4,307.5 600.5,309.8 594.0,312.1 587.5,309.1 586.2,307.5ZM548.7,316.1 555.2,315.4 561.7,317.0 561.7,317.0 563.4,321.8 561.7,325.7 561.1,326.5 555.2,330.3 553.7,331.2 548.7,333.2 544.6,331.2 542.3,327.9 541.8,326.5 542.3,322.9 542.6,321.8 545.9,317.0ZM652.2,316.5 654.5,317.0 652.2,320.4 651.2,317.0ZM632.8,326.3 638.6,326.5 639.3,326.5 643.1,331.2 643.8,336.0 645.8,338.3 649.1,340.8 652.2,341.7 655.9,345.5 657.1,350.2 652.2,353.7 645.8,354.6 639.3,350.4 638.2,350.2 632.8,348.8 630.2,350.2 626.4,350.7 619.9,351.0 613.4,351.1 612.1,350.2 613.4,349.8 615.0,345.5 613.4,341.7 611.5,340.8 613.1,336.0 613.4,335.9 619.8,331.2 619.9,331.1 626.4,327.2 630.6,326.5ZM644.5,350.2 645.8,351.1 652.2,350.5 652.6,350.2 652.2,349.3 645.8,347.2ZM587.5,335.7 589.5,336.0 588.6,340.8 587.5,340.8 587.5,340.7 586.7,336.0ZM749.3,344.1 751.1,345.5 749.3,346.8 745.0,345.5ZM704.0,349.9 705.2,350.2 710.5,351.2 715.4,355.0 716.9,355.6 720.0,359.8 718.2,364.5 716.9,365.5 710.5,366.2 707.2,364.5 704.0,361.4 702.9,359.8 704.0,357.5 706.6,355.0 704.0,350.6 701.0,350.2ZM709.5,359.8 710.5,360.7 712.4,359.8 710.5,358.9ZM522.8,357.9 529.3,356.5 534.7,359.8 535.8,361.3 537.4,364.5 538.9,369.2 541.0,374.0 542.3,374.9 543.1,374.0 548.7,370.9 555.2,370.6 560.8,374.0 561.7,374.9 564.7,378.8 565.7,383.5 566.3,388.2 568.1,391.9 574.6,390.4 581.1,389.1 587.5,390.4 592.2,393.0 592.3,397.8 587.5,402.1 587.0,402.5 583.1,407.2 581.1,412.0 581.1,412.2 574.6,413.6 568.1,413.2 566.6,412.0 562.9,407.2 561.7,402.6 561.3,402.5 555.2,402.3 548.7,402.0 542.3,398.2 541.5,397.8 535.8,393.9 531.1,393.0 529.3,392.2 525.2,388.2 522.8,387.0 518.8,383.5 516.4,381.4 514.0,378.8 512.8,374.0 513.4,369.2 515.3,364.5 516.4,363.0 520.0,359.8ZM519.3,364.5 516.8,369.2 516.4,372.3 516.1,374.0 516.4,374.7 518.0,378.8 522.8,382.6 527.9,383.5 529.3,384.2 530.7,383.5 533.9,378.8 534.5,374.0 534.4,369.2 532.5,364.5 529.3,361.5 522.8,361.7ZM553.9,374.0 548.7,374.5 543.7,378.8 542.3,382.3 540.3,383.5 540.1,388.2 542.3,390.2 543.8,393.0 548.7,396.3 555.2,397.1 561.0,393.0 561.7,389.8 562.0,388.2 562.2,383.5 561.7,381.9 560.8,378.8 555.5,374.0 555.2,373.8ZM577.5,397.8 581.1,399.1 583.0,397.8 581.1,394.8ZM607.0,357.3 613.4,355.4 617.7,359.8 616.6,364.5 613.4,366.3 609.1,364.5 607.0,362.4 605.1,359.8ZM665.2,376.7 671.7,374.7 676.4,378.8 671.7,383.5 671.7,383.5 671.5,383.5 665.2,382.3 663.5,378.8ZM691.1,385.6 694.1,388.2 694.5,393.0 691.1,396.1 686.6,393.0 687.5,388.2ZM613.4,400.8 615.2,402.5 618.9,407.2 619.9,409.4 621.1,412.0 621.3,416.8 619.9,420.3 619.5,421.5 617.5,426.2 615.5,431.0 613.4,432.1 607.0,432.7 604.0,431.0 601.3,426.2 603.4,421.5 603.7,416.8 604.5,412.0 606.7,407.2 607.0,406.6 610.7,402.5ZM611.4,407.2 608.2,412.0 607.4,416.8 608.5,421.5 613.1,426.2 613.4,426.4 613.5,426.2 616.3,421.5 618.1,416.8 617.8,412.0 615.1,407.2 613.4,405.4ZM684.6,430.4 691.1,429.4 693.0,431.0 694.6,435.8 692.1,440.5 691.1,441.4 684.6,442.2 682.4,440.5 681.4,435.8 683.8,431.0ZM639.3,433.6 645.8,435.6 645.9,435.8 647.2,440.5 645.8,442.5 639.3,444.9 635.2,440.5 637.4,435.8ZM704.0,449.6 710.5,448.3 712.1,450.0 712.8,454.8 710.5,457.9 704.0,455.7 703.0,454.8 703.6,450.0ZM678.1,462.5 682.5,464.2 684.6,465.6 687.8,469.0 684.6,471.0 679.9,473.8 678.1,475.0 671.7,473.9 671.5,473.8 670.0,469.0 671.7,466.7 674.6,464.2Z"/>
<path fill="#0099ff" stroke="#0099ff" d="M484.0,253.7 490.5,254.7 493.8,255.2 497.0,255.9 503.4,257.1 509.9,258.8 516.4,259.3 522.8,259.5 528.8,260.0 529.3,260.0 529.6,260.0 535.8,259.0 542.3,258.8 548.3,260.0 548.7,260.1 555.2,260.4 561.7,261.5 568.1,262.0 574.6,261.1 581.1,261.3 587.5,261.6 594.0,261.6 600.5,262.4 607.0,262.9 613.4,262.0 619.9,261.9 626.4,262.0 632.8,263.5 636.9,264.8 639.3,267.4 645.8,265.7 652.2,268.9 656.1,269.5 658.7,274.2 658.7,275.4 658.7,274.2 658.8,269.5 658.8,264.8 665.2,261.3 671.7,261.2 678.1,261.8 684.6,261.4 691.1,261.6 697.5,261.1 704.0,260.7 710.5,261.4 716.9,261.6 723.4,261.5 729.9,261.7 736.4,260.9 742.8,260.8 749.3,261.4 755.8,261.2 762.2,261.7 768.7,261.7 775.2,260.8 781.6,260.9 788.1,261.2 794.6,261.1 801.1,261.9 807.5,261.6 814.0,260.8 817.4,264.8 818.8,269.5 819.0,274.2 819.0,279.0 818.9,283.8 817.5,288.5 819.9,293.2 814.0,297.6 807.5,294.9 801.1,293.7 795.4,298.0 794.6,299.0 792.5,298.0 788.1,297.0 781.6,296.7 775.2,297.9 768.7,296.9 762.2,296.5 755.8,296.8 749.3,295.4 742.8,296.2 736.4,295.5 730.5,293.2 729.9,292.9 728.8,293.2 723.4,294.3 716.9,294.7 710.5,295.1 704.0,297.1 697.5,295.8 691.1,294.6 684.6,295.6 682.8,298.0 682.5,302.8 682.5,307.5 682.9,312.2 683.8,317.0 681.3,321.8 678.1,323.9 671.7,321.9 671.5,321.8 668.7,317.0 668.2,312.2 667.4,307.5 666.5,302.8 665.2,298.6 664.0,298.0 658.7,295.9 652.2,297.2 645.8,297.8 639.3,297.7 632.8,297.3 626.4,295.5 619.9,294.4 613.4,295.4 609.1,293.2 607.0,291.4 600.5,290.7 594.1,293.3 594.0,293.3 587.5,294.0 581.1,294.7 574.6,295.0 568.1,293.7 561.7,293.5 555.2,295.4 548.7,294.8 542.6,298.0 542.3,298.2 535.8,299.6 529.3,298.1 522.8,298.5 516.4,298.4 509.9,298.9 503.4,300.1 497.8,298.0 497.0,297.7 490.5,296.8 488.4,298.0 484.0,301.7 482.5,302.8 480.5,307.5 480.6,312.2 480.1,317.0 477.6,319.1 474.9,321.8 471.1,323.9 468.9,321.8 465.7,317.0 464.6,315.1 462.2,312.2 458.1,308.8 454.9,307.5 451.7,305.4 449.7,302.8 447.1,298.0 445.6,293.2 445.2,291.3 444.2,288.5 443.2,283.8 442.2,279.0 441.4,274.2 440.7,269.5 439.9,264.8 441.1,260.0 445.2,257.3 451.7,256.2 458.1,257.6 464.6,259.8 465.0,260.0 471.1,262.0 474.4,264.8 477.6,268.1 480.3,264.8 481.7,260.0 483.0,255.2ZM449.3,260.0 445.2,262.2 443.4,264.8 442.9,269.5 443.3,274.2 444.4,279.0 445.2,281.7 445.7,283.8 446.5,288.5 447.5,293.2 449.7,298.0 451.7,300.6 453.9,302.8 458.1,305.8 461.2,307.5 464.6,310.3 466.8,312.2 469.3,317.0 471.1,319.3 473.7,317.0 475.1,312.2 475.5,307.5 476.4,302.8 477.2,298.0 477.2,293.3 477.6,288.7 478.6,293.2 484.0,296.5 489.7,293.2 490.5,292.8 492.5,293.2 497.0,294.2 503.4,296.9 509.9,294.3 516.4,293.5 522.8,294.1 529.3,294.0 535.8,295.8 542.3,294.6 544.5,293.2 548.7,292.1 555.2,292.3 561.7,289.2 564.0,288.5 568.1,288.2 569.0,288.5 573.8,293.2 574.6,293.4 576.3,293.2 581.1,292.6 587.5,291.6 594.0,291.4 599.7,288.5 600.5,287.9 607.0,284.6 611.4,288.5 613.4,291.0 619.9,291.5 625.6,293.2 626.4,293.4 632.8,295.1 639.3,294.3 645.8,293.7 648.5,293.2 645.8,292.8 639.3,292.3 632.8,290.8 627.9,288.5 632.3,283.8 632.8,282.6 636.1,279.0 635.8,274.2 632.8,270.9 631.8,269.5 626.4,265.6 622.3,264.8 619.9,264.5 615.9,264.8 613.4,265.1 607.0,268.6 602.6,264.8 600.5,264.4 594.0,263.3 587.5,263.5 581.1,263.3 574.6,263.3 568.3,264.8 568.1,264.8 567.3,264.8 561.7,264.5 555.2,262.9 548.7,262.5 542.3,261.4 535.8,261.6 529.3,262.5 522.8,262.1 516.4,262.0 509.9,261.6 503.4,260.5 497.0,260.5 490.5,260.4 485.4,260.0 484.0,259.8 484.0,260.0 482.6,264.8 479.6,269.5 477.6,270.6 476.7,269.5 471.9,264.8 471.1,264.1 464.6,261.2 458.1,260.2 455.6,260.0 451.7,259.2ZM662.7,264.8 662.7,269.5 662.7,274.2 662.6,279.0 662.6,283.8 662.5,288.5 660.9,293.2 665.2,295.3 667.0,298.0 668.1,302.8 669.2,307.5 670.6,312.2 671.7,315.8 676.4,317.0 678.1,317.4 678.4,317.0 679.5,312.2 680.4,307.5 681.0,302.8 681.0,298.0 684.2,293.2 684.6,293.0 691.1,292.2 693.6,293.2 697.5,294.0 704.0,295.3 710.5,293.4 713.3,293.2 716.9,292.8 723.4,291.9 729.9,290.0 735.4,293.2 736.4,293.6 742.8,294.4 747.8,293.2 749.3,292.6 752.1,293.2 755.8,293.9 759.5,293.2 762.2,292.2 768.7,292.3 769.5,293.2 775.2,295.6 781.6,294.3 788.1,293.3 794.6,293.4 794.8,293.2 801.1,289.5 807.5,291.7 809.2,293.2 814.0,295.6 817.2,293.2 816.6,288.5 818.4,283.8 818.5,279.0 818.5,274.2 818.3,269.5 816.4,264.8 814.0,262.0 807.5,263.2 801.1,263.5 794.6,262.5 788.1,262.5 781.6,262.2 775.2,262.0 768.7,263.3 762.2,263.3 755.8,262.6 749.3,262.9 742.8,261.9 736.4,262.1 729.9,263.4 723.4,263.0 716.9,263.1 710.5,262.9 704.0,261.7 697.5,262.4 691.1,263.2 684.6,262.8 678.1,263.4 671.7,262.6 665.2,263.4ZM642.5,274.2 641.3,279.0 645.8,283.6 650.8,279.0 649.1,274.2 645.8,272.1ZM658.5,283.8 652.2,287.3 648.5,288.5 652.2,289.0 658.7,288.7 658.8,288.5 658.8,283.8 658.7,280.7ZM637.3,288.5 639.3,288.9 643.4,288.5 639.3,286.7ZM716.9,307.2 720.5,307.5 723.4,309.0 726.0,312.2 723.4,312.8 716.9,313.9 710.5,313.9 705.5,312.2 710.5,309.8 715.3,307.5ZM768.7,303.9 775.2,305.5 778.7,307.5 781.6,311.9 788.1,309.0 794.6,308.2 801.1,308.8 806.0,312.2 801.1,316.8 799.1,317.0 794.6,317.4 792.2,317.0 788.1,316.0 781.6,312.5 778.5,317.0 775.2,318.4 768.7,319.1 764.3,317.0 764.2,312.2 766.1,307.5ZM766.9,312.2 768.7,315.8 775.2,314.7 777.5,312.2 775.2,309.8 768.7,308.9ZM445.2,313.6 449.4,317.0 451.7,320.7 452.0,321.8 452.7,326.5 452.7,331.2 451.7,333.3 445.2,332.9 444.1,331.2 442.3,326.5 441.8,321.8 442.8,317.0ZM484.0,325.3 490.5,324.8 493.6,326.5 497.0,331.0 497.1,331.2 497.7,336.0 499.8,340.8 501.6,345.5 502.1,350.2 498.2,355.0 497.0,355.9 492.6,355.0 490.5,354.6 489.5,355.0 484.0,358.2 482.5,359.8 477.6,362.5 471.1,363.8 464.6,360.3 464.1,359.8 460.8,355.0 459.3,350.2 458.6,345.5 458.7,340.8 464.6,336.1 464.9,336.0 471.1,334.6 475.7,336.0 477.6,336.4 478.1,336.0 481.8,331.2 483.6,326.5ZM482.9,336.0 477.6,339.3 471.1,337.7 464.6,339.9 463.5,340.8 461.2,345.5 461.4,350.2 463.1,355.0 464.6,357.1 467.7,359.8 471.1,361.7 477.6,360.0 478.1,359.8 483.1,355.0 484.0,353.9 490.5,351.4 497.0,352.9 499.4,350.2 498.9,345.5 497.0,342.1 493.4,340.8 490.5,337.2 489.0,336.0 484.0,334.5ZM645.8,347.2 652.2,349.3 652.6,350.2 652.2,350.5 645.8,351.1 644.5,350.2ZM710.5,358.9 712.4,359.8 710.5,360.7 709.5,359.8ZM522.8,361.7 529.3,361.5 532.5,364.5 534.4,369.2 534.5,374.0 533.9,378.8 530.7,383.5 529.3,384.2 527.9,383.5 522.8,382.6 518.0,378.8 516.4,374.7 516.1,374.0 516.4,372.3 516.8,369.2 519.3,364.5ZM519.3,369.2 518.6,374.0 521.4,378.8 522.8,379.9 529.3,379.1 529.7,378.8 531.8,374.0 531.6,369.2 529.3,365.6 522.8,364.6ZM555.2,373.8 555.5,374.0 560.8,378.8 561.7,381.9 562.2,383.5 562.0,388.2 561.7,389.8 561.0,393.0 555.2,397.1 548.7,396.3 543.8,393.0 542.3,390.2 540.1,388.2 540.3,383.5 542.3,382.3 543.7,378.8 548.7,374.5 553.9,374.0ZM546.9,378.8 544.4,383.5 544.6,388.2 548.7,392.8 550.1,393.0 555.2,393.8 556.3,393.0 559.4,388.2 559.9,383.5 558.1,378.8 555.2,376.3 548.7,377.2ZM581.1,394.8 583.0,397.8 581.1,399.1 577.5,397.8ZM613.4,405.4 615.1,407.2 617.8,412.0 618.1,416.8 616.3,421.5 613.5,426.2 613.4,426.4 613.1,426.2 608.5,421.5 607.4,416.8 608.2,412.0 611.4,407.2ZM611.8,412.0 611.1,416.8 613.4,420.8 615.3,416.8 614.8,412.0 613.4,409.9Z"/>
<path fill="#00ccff" stroke="#00ccff" d="M451.7,259.2 455.6,260.0 458.1,260.2 464.6,261.2 471.1,264.1 471.9,264.8 476.7,269.5 477.6,270.6 479.6,269.5 482.6,264.8 484.0,260.0 484.0,259.8 485.4,260.0 490.5,260.4 497.0,260.5 503.4,260.5 509.9,261.6 516.4,262.0 522.8,262.1 529.3,262.5 535.8,261.6 542.3,261.4 548.7,262.5 555.2,262.9 561.7,264.5 567.3,264.8 568.1,264.8 568.3,264.8 574.6,263.3 581.1,263.3 587.5,263.5 594.0,263.3 600.5,264.4 602.6,264.8 607.0,268.6 613.4,265.1 615.9,264.8 619.9,264.5 622.3,264.8 626.4,265.6 631.8,269.5 632.8,270.9 635.8,274.2 636.1,279.0 632.8,282.6 632.3,283.8 627.9,288.5 632.8,290.8 639.3,292.3 645.8,292.8 648.5,293.2 645.8,293.7 639.3,294.3 632.8,295.1 626.4,293.4 625.6,293.2 619.9,291.5 613.4,291.0 611.4,288.5 607.0,284.6 600.5,287.9 599.7,288.5 594.0,291.4 587.5,291.6 581.1,292.6 576.3,293.2 574.6,293.4 573.8,293.2 569.0,288.5 568.1,288.2 564.0,288.5 561.7,289.2 555.2,292.3 548.7,292.1 544.5,293.2 542.3,294.6 535.8,295.8 529.3,294.0 522.8,294.1 516.4,293.5 509.9,294.3 503.4,296.9 497.0,294.2 492.5,293.2 490.5,292.8 489.7,293.2 484.0,296.5 478.6,293.2 477.6,288.7 477.2,293.2 477.2,298.0 476.4,302.8 475.5,307.5 475.1,312.2 473.7,317.0 471.1,319.3 469.3,317.0 466.8,312.2 464.6,310.3 461.2,307.5 458.1,305.8 453.9,302.8 451.7,300.6 449.7,298.0 447.5,293.2 446.5,288.5 445.7,283.8 445.2,281.7 444.4,279.0 443.3,274.2 442.9,269.5 443.4,264.8 445.2,262.2 449.3,260.0ZM446.6,264.8 445.2,269.1 445.1,269.5 445.2,272.0 445.3,274.2 446.2,279.0 447.4,283.8 448.2,288.5 449.4,293.2 451.7,297.2 452.3,298.0 457.5,302.8 458.1,303.2 464.6,306.9 467.1,307.5 471.1,312.2 471.1,312.3 471.1,312.2 472.3,307.5 474.0,302.8 475.1,298.0 475.0,293.2 474.5,288.5 477.6,284.5 481.6,288.5 484.0,292.5 490.5,289.3 497.0,291.8 502.2,293.2 503.4,293.8 504.6,293.2 509.9,291.8 516.4,291.0 522.8,291.0 527.2,288.5 529.3,288.1 530.3,288.5 535.8,293.0 542.3,292.6 548.7,290.5 555.2,290.7 559.2,288.5 561.7,287.7 568.1,287.2 571.6,288.5 574.6,291.2 581.1,290.4 587.5,289.4 594.0,289.5 596.0,288.5 600.5,285.0 602.6,283.8 604.0,279.0 604.0,274.2 602.6,269.5 600.5,267.8 594.0,265.0 587.5,265.2 581.1,265.1 574.6,265.1 568.1,266.0 561.7,265.9 555.2,265.1 548.7,264.9 547.8,264.8 542.3,263.4 535.8,263.8 530.7,264.8 529.3,264.9 525.8,264.8 522.8,264.5 516.4,264.4 509.9,264.0 503.4,262.6 497.0,263.4 490.5,264.0 488.0,264.8 484.0,268.6 483.7,269.5 477.6,272.9 475.1,269.5 471.1,265.8 469.3,264.8 464.6,262.4 458.1,261.5 451.7,261.4ZM615.5,269.5 613.4,270.3 609.4,274.2 609.3,279.0 612.6,283.8 613.4,284.4 619.9,288.1 626.4,285.5 628.2,283.8 630.7,279.0 630.5,274.2 626.4,270.1 624.5,269.5 619.9,268.2ZM665.2,263.4 671.7,262.6 678.1,263.4 684.6,262.8 691.1,263.2 697.5,262.4 704.0,261.7 710.5,262.9 716.9,263.1 723.4,263.0 729.9,263.4 736.4,262.1 742.8,261.9 749.3,262.9 755.8,262.6 762.2,263.3 768.7,263.3 775.2,262.0 781.6,262.2 788.1,262.5 794.6,262.5 801.1,263.5 807.5,263.2 814.0,262.0 816.4,264.8 818.3,269.5 818.5,274.2 818.5,279.0 818.4,283.8 816.6,288.5 817.2,293.2 814.0,295.6 809.2,293.2 807.5,291.7 801.1,289.5 794.8,293.2 794.6,293.4 788.1,293.3 781.6,294.3 775.2,295.6 769.5,293.2 768.7,292.3 762.2,292.2 759.5,293.2 755.8,293.9 752.1,293.2 749.3,292.6 747.8,293.2 742.8,294.4 736.4,293.6 735.4,293.2 729.9,290.0 723.4,291.9 716.9,292.8 713.3,293.2 710.5,293.4 704.0,295.3 697.5,294.0 693.6,293.2 691.1,292.2 684.6,293.0 684.2,293.2 681.0,298.0 681.0,302.8 680.4,307.5 679.5,312.2 678.4,317.0 678.1,317.4 676.4,317.0 671.7,315.8 670.6,312.2 669.2,307.5 668.1,302.8 667.0,298.0 665.2,295.3 660.9,293.2 662.5,288.5 662.6,283.8 662.6,279.0 662.7,274.2 662.7,269.5 662.7,264.8ZM667.7,264.8 665.6,269.5 665.6,274.2 665.6,279.0 665.5,283.8 665.9,288.5 666.6,293.2 669.0,298.0 669.7,302.8 671.0,307.5 671.7,309.3 678.1,307.9 678.2,307.5 679.4,302.8 679.2,298.0 679.1,293.2 684.6,289.6 689.1,288.5 691.1,288.4 691.9,288.5 697.5,291.4 702.5,293.2 704.0,293.6 705.1,293.2 710.5,289.3 714.1,288.5 716.9,288.4 723.3,288.5 723.4,288.5 723.4,288.5 729.9,288.0 731.5,288.5 736.4,291.6 742.8,292.4 749.3,289.1 755.8,290.4 759.4,288.5 762.2,288.1 768.7,288.1 770.0,288.5 775.2,293.2 781.6,291.8 788.1,290.4 794.6,290.7 797.9,288.5 801.1,287.7 807.5,288.3 808.2,288.5 813.3,293.2 814.0,293.6 814.5,293.2 815.6,288.5 817.9,283.8 818.0,279.0 818.0,274.2 817.8,269.5 815.3,264.8 814.0,263.2 807.6,264.8 807.5,264.8 801.1,264.9 799.3,264.8 794.6,263.8 788.1,263.9 781.7,263.4 775.2,263.1 769.3,264.8 768.7,264.8 762.2,264.8 761.2,264.8 755.8,264.0 749.3,264.3 742.8,263.0 736.4,263.3 730.5,264.8 729.9,264.9 727.0,264.8 723.4,264.5 716.9,264.7 710.5,264.3 704.0,262.8 697.5,263.7 691.1,264.7 684.6,264.3 680.5,264.8 678.1,264.9 676.6,264.8 671.7,263.9ZM645.8,272.1 649.1,274.2 650.8,279.0 645.8,283.6 641.3,279.0 642.5,274.2ZM768.7,308.9 775.2,309.8 777.5,312.2 775.2,314.7 768.7,315.8 766.9,312.2ZM484.0,334.5 489.0,336.0 490.5,337.2 493.4,340.8 497.0,342.1 498.9,345.5 499.4,350.2 497.0,352.9 490.5,351.4 484.0,353.9 483.1,355.0 478.1,359.8 477.6,360.0 471.1,361.7 467.7,359.8 464.6,357.1 463.1,355.0 461.4,350.2 461.2,345.5 463.5,340.8 464.6,339.9 471.1,337.7 477.6,339.3 482.9,336.0ZM469.3,340.8 464.6,344.2 463.9,345.5 463.5,350.2 464.6,353.1 465.5,355.0 471.1,359.6 477.6,357.5 480.3,355.0 484.0,350.2 484.0,350.0 486.5,345.5 484.0,342.3 477.6,342.3 473.4,340.8 471.1,340.0ZM522.8,364.6 529.3,365.6 531.6,369.2 531.8,374.0 529.7,378.7 529.3,379.1 522.8,379.9 521.4,378.8 518.6,374.0 519.3,369.2ZM521.8,369.2 521.1,374.0 522.8,376.6 528.6,374.0 527.1,369.2 522.8,367.9ZM548.7,377.2 555.2,376.3 558.1,378.8 559.9,383.5 559.4,388.2 556.3,393.0 555.2,393.8 550.1,393.0 548.7,392.8 544.6,388.2 544.4,383.5 546.9,378.8ZM554.5,378.8 548.7,380.4 546.9,383.5 547.6,388.2 548.7,389.5 555.2,390.6 557.0,388.2 557.8,383.5 555.3,378.8 555.2,378.6ZM613.4,409.9 614.8,412.0 615.3,416.8 613.4,420.8 611.1,416.7 611.8,412.0Z"/>
<path fill="#00ffff" stroke="#00ffff" d="M451.7,261.4 458.1,261.5 464.6,262.4 469.3,264.8 471.1,265.8 475.1,269.5 477.6,272.9 483.7,269.5 484.0,268.6 488.0,264.8 490.5,264.0 497.0,263.4 503.4,262.6 509.9,264.0 516.4,264.4 522.8,264.5 525.8,264.8 529.3,264.9 530.7,264.8 535.8,263.8 542.3,263.4 547.8,264.8 548.7,264.9 555.2,265.1 561.7,265.9 568.1,266.0 574.6,265.1 581.1,265.1 587.5,265.2 594.0,265.0 600.5,267.8 602.6,269.5 604.0,274.2 604.0,279.0 602.6,283.8 600.5,285.0 596.0,288.5 594.0,289.5 587.5,289.4 581.1,290.4 574.6,291.2 571.6,288.5 568.1,287.2 561.7,287.7 559.2,288.5 555.2,290.7 548.7,290.5 542.3,292.6 535.8,293.0 530.3,288.5 529.3,288.1 527.2,288.5 522.8,291.0 516.4,291.0 509.9,291.8 504.6,293.2 503.4,293.8 502.2,293.2 497.0,291.8 490.5,289.3 484.0,292.5 481.6,288.5 477.6,284.5 474.5,288.5 475.0,293.2 475.1,298.0 474.0,302.8 472.3,307.5 471.1,312.2 471.1,312.3 471.1,312.2 467.1,307.5 464.6,306.9 458.1,303.2 457.5,302.8 452.3,298.0 451.7,297.2 449.4,293.2 448.2,288.5 447.4,283.8 446.2,279.0 445.3,274.2 445.2,272.0 445.1,269.5 445.2,269.1 446.6,264.8ZM449.4,264.8 446.7,269.5 446.6,274.2 447.7,279.0 449.2,283.8 450.0,288.5 451.3,293.2 451.7,293.9 454.9,298.0 458.1,300.9 461.9,302.8 464.6,304.3 471.1,303.7 471.5,302.8 473.0,298.0 472.8,293.2 471.3,288.5 472.5,283.8 477.6,280.4 482.9,283.8 484.0,285.1 490.5,287.6 493.9,288.5 497.0,289.9 503.4,292.3 509.9,290.0 516.4,288.7 519.9,288.5 522.8,288.4 529.3,287.3 532.5,288.5 535.8,291.2 542.3,291.5 548.7,288.8 555.2,289.1 556.2,288.5 561.7,286.7 568.1,286.1 574.2,288.5 574.6,288.8 577.7,288.5 581.1,288.3 587.5,287.8 594.0,287.9 599.5,283.8 599.7,279.0 599.7,274.2 599.5,269.5 594.0,266.1 587.5,266.3 581.1,266.3 574.6,266.4 568.1,267.2 561.7,267.2 555.2,266.4 548.7,266.1 542.3,265.2 535.8,265.4 529.3,266.0 522.8,265.7 516.4,265.7 509.9,265.5 503.4,264.8 497.0,265.4 490.5,265.7 485.5,269.5 484.0,274.2 484.0,274.2 477.6,276.9 476.7,274.2 473.4,269.5 471.1,267.4 466.8,264.8 464.6,263.7 458.1,262.8 451.7,263.2ZM671.7,263.9 676.6,264.8 678.1,264.9 680.5,264.8 684.6,264.3 691.1,264.7 697.5,263.7 704.0,262.8 710.5,264.3 716.9,264.7 723.4,264.5 727.0,264.8 729.9,264.9 730.5,264.8 736.4,263.3 742.8,263.0 749.3,264.3 755.8,264.0 761.2,264.8 762.2,264.8 768.7,264.8 769.3,264.8 775.2,263.1 781.7,263.4 788.1,263.9 794.6,263.8 799.3,264.8 801.1,264.9 807.5,264.8 807.6,264.8 814.0,263.2 815.3,264.8 817.8,269.5 818.0,274.2 818.0,279.0 817.9,283.8 815.6,288.5 814.5,293.2 814.0,293.6 813.3,293.2 808.2,288.5 807.5,288.3 801.1,287.7 797.9,288.5 794.6,290.7 788.1,290.4 781.6,291.8 775.2,293.2 770.0,288.5 768.7,288.1 762.2,288.1 759.4,288.5 755.8,290.4 749.3,289.1 742.8,292.4 736.4,291.6 731.5,288.5 729.9,288.0 723.4,288.5 723.4,288.5 723.3,288.5 716.9,288.4 714.1,288.5 710.5,289.3 705.1,293.2 704.0,293.6 702.5,293.2 697.5,291.4 691.9,288.5 691.1,288.4 689.1,288.5 684.6,289.6 679.1,293.2 679.2,298.0 679.4,302.8 678.2,307.5 678.1,307.9 671.7,309.3 671.0,307.5 669.7,302.8 669.0,298.0 666.6,293.2 665.9,288.5 665.5,283.8 665.6,279.0 665.6,274.2 665.6,269.5 667.7,264.8ZM698.7,264.8 697.5,264.9 691.1,265.6 684.6,265.3 678.1,265.6 671.7,265.2 666.7,269.5 666.7,274.2 666.7,279.0 666.5,283.8 668.7,288.5 671.0,293.2 670.9,298.0 671.3,302.8 671.7,304.1 675.7,302.8 674.7,298.0 672.7,293.2 676.7,288.5 678.1,288.2 684.6,287.9 691.1,287.5 697.5,288.5 697.7,288.5 704.0,291.5 708.1,288.5 710.5,287.8 716.9,287.5 723.4,287.6 729.9,287.1 734.8,288.5 736.4,289.5 742.8,290.4 746.2,288.5 749.3,287.8 755.8,288.1 762.2,287.2 768.7,287.1 772.9,288.5 775.2,290.6 781.6,289.3 784.8,288.5 788.1,288.2 794.6,288.3 801.1,286.7 807.5,287.4 811.8,288.5 814.0,290.6 814.6,288.5 817.4,283.8 817.6,279.0 817.6,274.2 817.2,269.5 814.3,264.8 814.0,264.4 812.6,264.8 807.5,265.5 801.1,265.7 794.6,265.0 788.1,265.0 782.7,264.8 781.6,264.7 775.2,264.3 773.4,264.8 768.7,265.6 762.2,265.5 755.8,265.1 749.3,265.3 745.5,264.8 742.8,264.2 736.4,264.5 735.4,264.8 729.9,265.7 723.4,265.5 716.9,265.5 710.5,265.3 707.4,264.8 704.0,263.9ZM619.9,268.2 624.5,269.5 626.4,270.1 630.5,274.2 630.7,279.0 628.2,283.8 626.4,285.5 619.9,288.1 613.4,284.4 612.6,283.8 609.3,279.0 609.4,274.2 613.4,270.3 615.5,269.5ZM615.0,274.2 614.2,279.0 617.9,283.8 619.9,285.0 622.5,283.8 626.4,280.0 626.9,279.0 626.4,274.6 626.3,274.2 619.9,271.8ZM471.1,340.0 473.4,340.8 477.6,342.3 484.0,342.3 486.5,345.5 484.0,350.0 484.0,350.2 480.3,355.0 477.6,357.5 471.1,359.6 465.5,355.0 464.6,353.1 463.5,350.2 463.9,345.5 464.6,344.2 469.3,340.8ZM466.9,345.5 465.8,350.2 468.1,355.0 471.1,357.4 477.3,355.0 477.6,354.7 480.3,350.2 478.3,345.5 477.6,345.2 471.1,342.4ZM522.8,367.9 527.1,369.2 528.6,374.0 522.8,376.6 521.1,374.0 521.8,369.2ZM555.2,378.6 555.3,378.8 557.8,383.5 557.0,388.2 555.2,390.6 548.7,389.5 547.6,388.2 546.9,383.5 548.7,380.4 554.5,378.8ZM551.9,383.5 555.2,385.8 555.7,383.5 555.2,382.5Z"/>
<path fill="#00ffcc" stroke="#00ffcc" d="M451.7,263.2 458.1,262.8 464.6,263.7 466.8,264.8 471.1,267.4 473.4,269.5 476.7,274.2 477.6,276.9 484.0,274.2 484.0,274.2 485.5,269.5 490.5,265.7 497.0,265.4 503.4,264.8 509.9,265.5 516.4,265.7 522.8,265.7 529.3,266.0 535.8,265.4 542.3,265.2 548.7,266.1 555.2,266.4 561.7,267.2 568.1,267.2 574.6,266.4 581.1,266.3 587.5,266.3 594.0,266.1 599.5,269.5 599.7,274.2 599.7,279.0 599.5,283.8 594.0,287.9 587.5,287.8 581.1,288.3 577.7,288.5 574.6,288.8 574.2,288.5 568.1,286.1 561.7,286.7 556.2,288.5 555.2,289.1 548.7,288.8 542.3,291.5 535.8,291.2 532.5,288.5 529.3,287.3 522.8,288.4 519.9,288.5 516.4,288.7 509.9,290.0 503.4,292.3 497.0,289.9 493.9,288.5 490.5,287.6 484.0,285.1 482.9,283.8 477.6,280.4 472.5,283.8 471.3,288.5 472.8,293.2 473.0,298.0 471.5,302.8 471.1,303.7 464.6,304.3 461.9,302.8 458.1,300.9 454.9,298.0 451.7,293.9 451.3,293.2 450.0,288.5 449.2,283.8 447.7,279.0 446.6,274.2 446.7,269.5 449.4,264.8ZM453.4,264.8 451.7,265.1 448.2,269.5 447.9,274.2 449.2,279.0 450.9,283.8 451.7,288.3 451.7,288.5 453.8,293.2 457.4,298.0 458.1,298.6 464.6,301.6 470.7,298.0 470.4,293.2 467.9,288.5 467.9,283.8 471.1,281.4 474.6,279.0 474.7,274.2 471.7,269.5 471.1,268.9 464.6,264.9 463.3,264.8 458.1,264.1ZM487.1,269.5 486.1,274.2 485.1,279.0 485.8,283.8 490.5,286.4 497.0,288.2 497.7,288.5 503.4,291.1 509.4,288.5 509.9,288.3 516.4,287.7 522.8,287.5 529.3,286.5 534.7,288.5 535.8,289.4 542.3,290.4 546.7,288.5 548.7,287.7 555.2,287.7 561.7,285.7 568.1,285.1 574.6,287.5 581.1,287.2 587.5,286.7 594.0,286.5 597.7,283.8 597.9,279.0 597.9,274.2 597.7,269.5 594.0,267.2 587.5,267.4 581.1,267.5 574.6,267.6 568.1,268.4 561.7,268.5 555.2,267.7 548.7,267.3 542.3,266.4 535.8,266.5 529.3,267.0 522.8,266.8 516.4,266.8 509.9,266.6 503.4,266.0 497.0,266.5 490.5,266.9ZM704.0,263.9 707.4,264.8 710.5,265.3 716.9,265.5 723.4,265.5 729.9,265.7 735.4,264.8 736.4,264.5 742.8,264.2 745.5,264.8 749.3,265.3 755.8,265.1 762.2,265.5 768.7,265.6 773.4,264.8 775.2,264.3 781.6,264.7 782.7,264.8 788.1,265.0 794.6,265.0 801.1,265.7 807.5,265.5 812.6,264.8 814.0,264.4 814.3,264.8 817.2,269.5 817.6,274.2 817.6,279.0 817.4,283.8 814.6,288.5 814.0,290.6 811.8,288.5 807.5,287.4 801.1,286.7 794.6,288.3 788.1,288.2 784.8,288.5 781.6,289.3 775.2,290.6 772.9,288.5 768.7,287.1 762.2,287.2 755.8,288.1 749.3,287.8 746.2,288.5 742.8,290.4 736.4,289.5 734.8,288.5 729.9,287.1 723.4,287.6 716.9,287.5 710.5,287.8 708.1,288.5 704.0,291.5 697.7,288.5 697.5,288.5 691.1,287.5 684.6,287.9 678.1,288.2 676.7,288.5 672.7,293.2 674.7,298.0 675.7,302.8 671.7,304.1 671.3,302.8 670.9,298.0 671.0,293.2 668.7,288.5 666.5,283.8 666.7,279.0 666.7,274.2 666.7,269.5 671.7,265.2 678.1,265.6 684.6,265.3 691.1,265.6 697.5,264.9 698.7,264.8ZM667.8,269.5 667.8,274.2 667.7,279.0 667.6,283.8 671.5,288.5 671.7,288.8 671.9,288.5 678.1,287.0 684.6,287.0 691.1,286.6 697.5,287.4 702.2,288.5 704.0,289.4 705.2,288.5 710.5,286.9 716.9,286.6 723.4,286.7 729.9,286.1 736.4,288.0 742.8,288.4 749.3,286.9 755.8,287.2 762.2,286.2 768.7,286.1 775.2,288.3 781.6,287.9 788.1,287.4 794.6,287.5 801.1,285.7 807.5,286.5 814.0,288.2 816.8,283.8 817.1,279.0 817.1,274.2 816.7,269.5 814.0,265.4 807.5,266.2 801.1,266.4 794.6,265.8 788.1,265.8 781.6,265.5 775.2,265.3 768.7,266.3 762.2,266.3 755.8,265.9 749.3,266.0 742.8,265.2 736.4,265.4 729.9,266.5 723.4,266.3 716.9,266.3 710.5,266.1 704.0,265.0 697.5,266.0 691.1,266.4 684.6,266.1 678.1,266.4 671.7,266.1ZM619.9,271.8 626.3,274.2 626.4,274.6 626.9,279.0 626.4,280.0 622.5,283.8 619.9,285.0 617.9,283.8 614.2,279.0 615.0,274.2ZM471.1,342.4 477.6,345.2 478.3,345.5 480.3,350.2 477.6,354.7 477.3,355.0 471.1,357.4 468.1,355.0 465.8,350.2 466.9,345.5ZM470.2,345.5 468.3,350.2 470.8,355.0 471.1,355.3 471.8,355.0 476.4,350.2 472.7,345.5 471.1,344.8ZM555.2,382.5 555.7,383.5 555.2,385.8 551.9,383.5Z"/>
<path fill="#00ff99" stroke="#00ff99" d="M458.1,264.1 463.3,264.8 464.6,264.9 471.1,268.9 471.7,269.5 474.7,274.2 474.6,279.0 471.1,281.4 467.9,283.8 467.9,288.5 470.4,293.2 470.7,298.0 464.6,301.6 458.2,298.6 457.4,298.0 453.8,293.2 451.7,288.5 451.7,288.3 450.9,283.8 449.2,279.0 447.9,274.2 448.2,269.5 451.7,265.1 453.4,264.8ZM449.8,269.5 449.3,274.2 450.7,279.0 451.7,281.6 454.3,283.8 455.4,288.5 456.4,293.2 458.1,295.5 462.8,298.0 464.6,298.8 466.0,298.0 467.1,293.2 464.6,288.8 464.2,288.5 463.4,283.8 464.6,283.3 470.5,279.0 471.1,278.0 472.8,274.2 471.1,271.5 470.1,269.5 464.6,266.0 458.1,265.3 451.7,267.1ZM490.5,266.9 497.0,266.5 503.4,266.0 509.9,266.6 516.4,266.8 522.8,266.8 529.3,267.0 535.8,266.5 542.3,266.4 548.7,267.3 555.2,267.7 561.7,268.5 568.1,268.4 574.6,267.6 581.1,267.5 587.5,267.4 594.0,267.2 597.7,269.5 597.9,274.2 597.9,279.0 597.7,283.8 594.0,286.5 587.5,286.7 581.1,287.2 574.6,287.5 568.1,285.1 561.7,285.7 555.2,287.7 548.7,287.7 546.7,288.5 542.3,290.4 535.8,289.4 534.7,288.5 529.3,286.5 522.8,287.5 516.4,287.7 509.9,288.3 509.4,288.5 503.4,291.1 497.7,288.5 497.0,288.2 490.5,286.4 485.8,283.8 485.1,279.0 486.1,274.2 487.1,269.5ZM488.7,269.5 488.1,274.2 487.5,279.0 487.9,283.8 490.5,285.2 497.0,287.1 500.2,288.5 503.4,290.0 506.8,288.5 509.9,287.3 516.4,286.8 522.8,286.6 529.3,285.7 535.8,288.0 538.5,288.5 542.3,289.3 544.1,288.5 548.7,286.6 555.2,286.6 561.7,284.6 568.1,284.1 574.6,286.2 581.1,286.0 587.5,285.6 594.0,285.2 595.9,283.8 596.0,279.0 596.0,274.2 595.9,269.5 594.0,268.3 587.5,268.5 581.1,268.7 574.6,268.9 569.3,269.5 568.1,269.7 561.7,269.9 559.6,269.5 555.2,268.9 548.7,268.4 542.3,267.5 535.8,267.6 529.3,268.1 522.8,267.9 516.4,267.9 509.9,267.7 503.4,267.2 497.0,267.7 490.5,268.1ZM671.7,266.1 678.1,266.4 684.6,266.1 691.1,266.4 697.5,266.0 704.0,265.0 710.5,266.1 716.9,266.3 723.4,266.3 729.9,266.5 736.4,265.4 742.8,265.2 749.3,266.0 755.8,265.9 762.2,266.3 768.7,266.3 775.2,265.3 781.6,265.5 788.1,265.8 794.6,265.8 801.1,266.4 807.5,266.2 814.0,265.4 816.7,269.5 817.1,274.2 817.1,279.0 816.8,283.8 814.0,288.2 807.5,286.5 801.1,285.7 794.6,287.5 788.1,287.4 781.6,287.9 775.2,288.3 768.7,286.1 762.2,286.2 755.8,287.2 749.3,286.9 742.8,288.4 736.4,288.0 729.9,286.1 723.4,286.7 716.9,286.6 710.5,286.9 705.2,288.5 704.0,289.4 702.2,288.5 697.5,287.4 691.1,286.6 684.6,287.0 678.1,287.0 671.9,288.5 671.7,288.8 671.5,288.5 667.6,283.8 667.7,279.0 667.8,274.2 667.8,269.5ZM669.0,269.5 668.9,274.2 668.8,279.0 668.6,283.8 671.7,287.4 678.1,285.9 684.6,286.1 691.1,285.6 697.5,286.3 704.0,287.6 710.5,286.0 716.9,285.6 723.4,285.8 729.9,285.2 736.4,287.1 742.8,287.6 749.3,286.0 755.8,286.3 762.2,285.3 768.7,285.2 775.2,287.5 781.6,287.1 788.1,286.5 794.6,286.6 801.1,284.7 807.5,285.6 814.0,287.4 816.3,283.8 816.6,279.0 816.6,274.2 816.1,269.5 814.0,266.2 807.5,266.9 801.1,267.1 794.6,266.6 788.1,266.6 781.6,266.3 775.2,266.1 768.7,267.0 762.2,267.0 755.8,266.7 749.3,266.8 742.8,266.0 736.4,266.3 729.9,267.3 723.4,267.2 716.9,267.1 710.5,266.9 704.0,266.2 697.5,267.0 691.1,267.2 684.6,266.9 678.1,267.1 671.7,267.1ZM471.1,344.8 472.7,345.5 476.4,350.2 471.8,355.0 471.1,355.3 470.8,355.0 468.3,350.2 470.2,345.5ZM470.8,350.2 471.1,350.7 471.6,350.2 471.1,349.7Z"/>
<path fill="#00ff66" stroke="#00ff66" d="M451.7,267.1 458.1,265.3 464.6,266.0 470.1,269.5 471.1,271.5 472.8,274.2 471.1,278.0 470.5,279.0 464.6,283.3 463.4,283.8 464.2,288.5 464.6,288.8 467.1,293.2 466.0,298.0 464.6,298.8 462.8,298.0 458.1,295.5 456.4,293.2 455.4,288.5 454.3,283.8 451.7,281.6 450.7,279.0 449.3,274.2 449.8,269.5ZM451.4,269.5 450.6,274.2 451.7,277.5 452.9,279.0 458.2,283.3 464.6,281.2 467.6,279.0 470.8,274.2 468.4,269.5 464.6,267.0 458.1,266.5 451.7,269.1ZM490.5,268.1 497.0,267.7 503.4,267.2 509.9,267.7 516.4,267.9 522.8,267.9 529.3,268.1 535.8,267.6 542.3,267.5 548.7,268.4 555.2,268.9 559.6,269.5 561.7,269.9 568.1,269.7 569.3,269.5 574.6,268.9 581.1,268.7 587.5,268.5 594.0,268.3 595.9,269.5 596.0,274.2 596.0,279.0 595.9,283.8 594.0,285.2 587.5,285.6 581.1,286.0 574.6,286.2 568.1,284.1 561.7,284.6 555.2,286.6 548.7,286.6 544.1,288.5 542.3,289.3 538.5,288.5 535.8,288.0 529.3,285.7 522.8,286.6 516.4,286.8 509.9,287.3 506.8,288.5 503.4,290.0 500.2,288.5 497.0,287.1 490.5,285.2 487.9,283.8 487.5,279.0 488.1,274.2 488.7,269.5ZM490.3,269.5 490.2,274.2 489.9,279.0 490.0,283.8 490.5,284.0 497.0,286.1 502.7,288.5 503.4,288.8 504.2,288.5 509.9,286.4 516.4,285.9 522.8,285.8 529.3,284.9 535.8,286.9 542.3,288.2 548.7,285.6 555.2,285.4 561.2,283.8 561.7,283.5 568.1,281.8 570.7,283.8 574.6,285.0 581.1,284.8 587.5,284.5 594.0,283.8 594.1,283.8 594.2,279.0 594.2,274.2 594.1,269.5 594.0,269.4 592.1,269.5 587.5,269.9 581.1,270.2 574.6,271.0 568.1,272.0 561.7,271.9 555.2,270.7 548.7,269.7 547.8,269.5 542.3,268.7 535.8,268.7 529.3,269.2 522.8,269.0 516.4,268.9 509.9,268.8 503.4,268.4 497.0,268.8 490.5,269.4ZM671.7,267.1 678.1,267.1 684.6,266.9 691.1,267.2 697.5,267.0 704.0,266.2 710.5,266.9 716.9,267.1 723.4,267.2 729.9,267.3 736.4,266.3 742.8,266.0 749.3,266.8 755.8,266.7 762.2,267.0 768.7,267.0 775.2,266.1 781.6,266.3 788.1,266.6 794.6,266.6 801.1,267.1 807.5,266.9 814.0,266.2 816.1,269.5 816.6,274.2 816.6,279.0 816.3,283.8 814.0,287.4 807.5,285.6 801.1,284.7 794.6,286.6 788.1,286.5 781.6,287.1 775.2,287.5 768.7,285.2 762.2,285.3 755.8,286.3 749.3,286.0 742.8,287.6 736.4,287.1 729.9,285.2 723.4,285.8 717.0,285.6 710.5,286.0 704.0,287.6 697.5,286.3 691.1,285.6 684.6,286.1 678.1,285.9 671.7,287.4 668.6,283.8 668.8,279.0 668.9,274.2 669.0,269.5ZM670.1,269.5 670.0,274.2 669.9,279.0 669.6,283.8 671.7,286.2 678.1,284.7 684.6,285.2 691.1,284.7 697.5,285.3 704.0,286.2 710.5,285.2 716.9,284.7 723.4,285.0 729.9,284.2 736.4,286.2 742.8,286.8 749.3,285.1 755.8,285.5 762.2,284.3 768.7,284.2 775.2,286.7 781.6,286.3 788.1,285.7 794.6,285.8 800.8,283.8 801.1,283.6 801.6,283.7 807.5,284.7 814.0,286.6 815.8,283.8 816.1,279.0 816.1,274.2 815.6,269.5 814.0,267.0 807.5,267.7 801.1,267.8 794.6,267.3 788.1,267.4 781.6,267.2 775.2,267.0 768.7,267.7 762.2,267.7 755.8,267.4 749.3,267.5 742.8,266.9 736.4,267.2 729.9,268.1 723.4,268.1 716.9,267.8 710.5,267.7 704.0,267.4 697.5,268.0 691.1,268.0 684.6,267.6 678.1,267.8 671.7,268.1ZM471.1,349.7 471.6,350.3 471.1,350.7 470.8,350.2Z"/>
<path fill="#00ff33" stroke="#00ff33" d="M451.7,269.1 458.1,266.5 464.6,267.0 468.4,269.5 470.8,274.2 467.6,279.0 464.6,281.2 458.1,283.3 452.9,279.0 451.7,277.5 450.6,274.2 451.4,269.5ZM453.8,269.5 452.1,274.2 456.1,279.0 458.1,280.6 464.6,279.0 464.7,279.0 469.0,274.2 466.8,269.5 464.6,268.1 458.1,267.6ZM490.5,269.4 497.0,268.8 503.4,268.4 509.9,268.8 516.4,268.9 522.8,269.0 529.3,269.2 535.8,268.7 542.3,268.7 547.8,269.5 548.7,269.7 555.2,270.7 561.7,271.9 568.1,272.0 574.6,271.0 581.1,270.2 587.5,269.9 592.1,269.5 594.0,269.4 594.1,269.5 594.2,274.2 594.2,279.0 594.1,283.8 594.0,283.8 587.5,284.5 581.1,284.8 574.6,285.0 570.7,283.8 568.1,281.8 561.7,283.5 561.2,283.8 555.2,285.4 548.7,285.6 542.3,288.2 535.8,286.9 529.3,284.9 522.8,285.8 516.4,285.9 509.9,286.4 504.2,288.5 503.4,288.8 502.7,288.5 497.0,286.1 490.5,284.0 490.0,283.8 489.9,279.0 490.2,274.2 490.3,269.5ZM493.2,274.2 493.0,279.0 493.0,283.8 497.0,285.0 503.4,287.2 509.9,285.4 516.4,285.0 522.8,284.9 529.3,284.0 535.8,285.9 542.3,286.9 548.7,284.6 555.2,284.3 557.0,283.8 561.7,281.0 568.1,279.0 574.4,283.8 574.6,283.8 577.2,283.8 581.1,283.4 587.5,281.7 589.7,279.0 589.7,274.2 587.5,272.9 581.1,272.5 574.6,273.8 568.1,274.2 561.7,273.9 555.2,273.0 548.7,271.7 542.3,270.3 535.8,270.2 529.3,270.6 522.8,270.4 516.4,270.4 509.9,270.3 503.4,269.7 497.0,270.7ZM671.7,268.1 678.1,267.8 684.6,267.6 691.1,268.0 697.5,268.0 704.0,267.4 710.5,267.7 716.9,267.8 723.4,268.1 729.9,268.1 736.4,267.2 742.8,266.9 749.3,267.5 755.8,267.4 762.2,267.7 768.7,267.7 775.2,267.0 781.6,267.2 788.1,267.4 794.6,267.3 801.1,267.8 807.5,267.7 814.0,267.0 815.6,269.5 816.1,274.2 816.1,279.0 815.8,283.8 814.0,286.6 807.5,284.7 801.6,283.8 801.1,283.6 800.8,283.8 794.6,285.8 788.1,285.7 781.6,286.3 775.2,286.7 768.7,284.2 762.2,284.3 755.8,285.5 749.3,285.1 742.8,286.8 736.4,286.2 729.9,284.2 723.4,285.0 716.9,284.7 710.5,285.2 704.0,286.2 697.5,285.3 691.1,284.7 684.6,285.2 678.1,284.7 671.7,286.2 669.6,283.8 669.9,279.0 670.0,274.2 670.1,269.5ZM671.2,269.5 671.2,274.2 671.0,279.0 670.6,283.8 671.7,285.0 677.2,283.8 678.1,283.2 679.4,283.8 684.6,284.4 691.1,283.8 697.5,284.2 704.0,284.8 710.5,284.3 716.9,283.8 723.4,284.1 726.1,283.8 729.9,281.7 731.4,283.8 736.4,285.3 742.8,286.0 749.3,284.3 755.8,284.6 760.5,283.8 762.2,283.1 768.7,283.1 769.7,283.8 775.2,285.9 781.6,285.5 788.1,284.8 794.6,284.9 798.2,283.8 801.1,282.4 807.5,283.7 807.6,283.8 814.0,285.8 815.3,283.8 815.6,279.0 815.6,274.2 815.0,269.5 814.0,267.9 807.5,268.4 801.1,268.5 794.6,268.1 788.1,268.2 781.6,268.0 775.2,267.8 768.7,268.5 762.2,268.4 755.8,268.2 749.3,268.3 742.8,267.8 736.4,268.0 729.9,268.9 723.4,268.9 716.9,268.6 710.5,268.5 704.0,268.6 697.5,269.0 691.1,268.8 684.6,268.4 678.1,268.6 671.7,269.1Z"/>
<path fill="#00ff00" stroke="#00ff00" d="M458.1,267.6 464.6,268.1 466.8,269.5 469.0,274.2 464.7,279.0 464.6,279.0 458.1,280.6 456.1,279.0 452.1,274.2 453.8,269.5ZM456.5,269.5 454.3,274.2 458.1,278.1 464.6,277.1 467.3,274.2 465.1,269.5 464.6,269.2 458.1,268.8ZM671.7,269.1 678.1,268.6 684.6,268.4 691.1,268.8 697.5,269.0 704.0,268.6 710.5,268.5 716.9,268.6 723.4,268.9 729.9,268.9 736.4,268.0 742.8,267.8 749.3,268.3 755.8,268.2 762.2,268.4 768.7,268.5 775.2,267.8 781.6,268.0 788.1,268.2 794.6,268.1 801.1,268.5 807.5,268.4 814.0,267.9 815.0,269.5 815.6,274.2 815.6,279.0 815.3,283.8 814.0,285.8 807.6,283.8 807.5,283.7 801.1,282.4 798.2,283.8 794.6,284.9 788.1,284.8 781.6,285.5 775.2,285.9 769.7,283.8 768.7,283.1 762.2,283.1 760.5,283.8 755.8,284.6 749.3,284.3 742.8,286.0 736.4,285.3 731.4,283.8 729.9,281.7 726.1,283.8 723.4,284.1 716.9,283.8 710.5,284.3 704.0,284.8 697.5,284.2 691.1,283.8 684.6,284.4 679.4,283.8 678.1,283.2 677.2,283.8 671.7,285.0 670.6,283.8 671.0,279.0 671.2,274.2 671.2,269.5ZM676.3,269.5 675.9,274.2 674.7,279.0 678.1,280.3 684.6,281.6 688.8,279.0 688.7,274.2 688.7,269.5 684.6,269.2 678.1,269.3ZM707.2,269.5 707.2,274.2 707.2,279.0 710.5,280.8 716.9,279.6 718.6,279.0 718.6,274.2 718.6,269.5 716.9,269.4 710.5,269.3ZM731.8,269.5 731.8,274.2 731.8,279.0 734.3,283.8 736.4,284.4 742.8,285.2 748.1,283.8 749.3,283.0 755.8,283.7 762.2,281.5 768.7,281.8 771.7,283.8 775.2,285.1 781.7,284.6 788.1,283.9 794.6,284.1 795.6,283.8 801.1,281.1 807.5,282.3 810.1,283.8 814.0,285.0 814.8,283.8 815.1,279.0 815.1,274.2 814.5,269.5 814.0,268.7 807.5,269.1 801.1,269.3 794.6,268.9 788.1,269.0 781.6,268.8 775.2,268.7 768.7,269.2 762.2,269.2 755.8,269.0 749.3,269.0 742.8,268.7 736.4,268.9ZM671.6,283.8 671.7,283.8 671.8,283.8 671.7,283.4ZM497.0,270.7 503.4,269.7 509.9,270.3 516.4,270.4 522.8,270.4 529.3,270.6 535.8,270.2 542.3,270.3 548.7,271.7 555.2,273.0 561.7,273.9 568.1,274.2 574.6,273.8 581.1,272.5 587.5,272.9 589.7,274.2 589.7,279.0 587.5,281.7 581.1,283.4 577.2,283.8 574.6,283.8 574.4,283.8 568.1,279.0 561.7,281.0 557.0,283.8 555.2,284.3 548.7,284.6 542.3,286.9 535.8,285.9 529.3,284.0 522.8,284.9 516.4,285.0 509.9,285.4 503.4,287.2 497.0,285.0 493.0,283.8 493.0,279.0 493.2,274.2ZM496.4,274.2 496.4,279.0 496.4,283.8 497.0,283.9 503.4,285.3 509.9,284.4 516.4,284.1 522.8,284.0 524.7,283.8 529.3,283.0 531.8,283.8 535.8,284.8 542.3,285.6 548.0,283.8 548.7,283.3 555.2,282.0 560.6,279.0 555.2,275.7 551.1,274.2 548.7,273.7 542.3,272.6 535.8,272.2 529.3,272.2 522.8,272.2 516.4,272.2 509.9,272.2 503.4,272.1 497.0,273.7Z"/>
<path fill="#40ff00" stroke="#40ff00" d="M458.1,268.8 464.6,269.2 465.1,269.5 467.3,274.2 464.6,277.1 458.1,278.1 454.3,274.2 456.5,269.5ZM456.6,274.2 458.1,275.9 464.6,275.2 465.5,274.2 464.6,272.3 458.1,271.2ZM678.1,269.3 684.6,269.2 688.7,269.5 688.7,274.2 688.8,279.0 684.6,281.6 678.1,280.3 674.7,279.0 675.9,274.2 676.3,269.5ZM710.5,269.3 716.9,269.4 718.6,269.5 718.6,274.2 718.6,279.0 716.9,279.6 710.5,280.8 707.2,279.0 707.2,274.2 707.2,269.5ZM736.4,268.9 742.8,268.7 749.3,269.0 755.8,269.0 762.2,269.2 768.7,269.2 775.2,268.7 781.6,268.8 788.1,269.0 794.6,268.9 801.1,269.3 807.5,269.1 814.0,268.7 814.5,269.5 815.1,274.2 815.1,279.0 814.8,283.8 814.0,285.0 810.1,283.8 807.5,282.3 801.1,281.1 795.6,283.8 794.6,284.1 788.1,283.9 781.7,284.6 775.2,285.1 771.7,283.8 768.7,281.8 762.2,281.5 755.8,283.7 749.3,283.0 748.1,283.8 742.8,285.2 736.4,284.4 734.3,283.8 731.8,279.0 731.8,274.2 731.8,269.5ZM738.0,274.2 738.0,279.0 738.1,283.8 742.8,284.4 745.3,283.8 749.3,281.1 755.8,281.0 762.2,279.8 768.7,280.6 773.7,283.8 775.2,284.3 781.6,283.8 782.3,283.8 788.1,281.7 794.6,280.5 801.1,279.8 807.5,281.0 812.7,283.8 814.0,284.2 814.3,283.8 814.7,279.0 814.7,274.2 814.0,269.8 807.5,270.7 801.1,272.0 794.6,271.9 788.1,270.5 781.6,269.8 775.2,269.6 768.7,271.0 762.2,272.0 755.8,271.0 749.3,270.7 742.8,269.7ZM497.0,273.7 503.4,272.1 509.9,272.2 516.4,272.2 522.8,272.2 529.3,272.2 535.8,272.2 542.3,272.6 548.7,273.7 551.1,274.2 555.2,275.7 560.6,279.0 555.2,282.0 548.7,283.3 548.0,283.8 542.3,285.6 535.8,284.8 531.8,283.8 529.3,283.0 524.7,283.8 522.8,284.0 516.4,284.1 509.9,284.4 503.4,285.3 497.0,283.9 496.4,283.8 496.4,279.0 496.4,274.2ZM507.1,274.2 504.4,279.0 509.9,282.4 516.4,282.7 522.8,282.7 529.3,281.7 535.6,283.8 535.8,283.8 542.3,284.4 544.2,283.8 548.7,281.0 554.8,279.0 548.7,276.5 542.3,275.3 536.7,274.2 535.8,274.2 529.3,273.7 522.8,273.9 516.4,273.9 509.9,274.0ZM671.7,283.4 671.8,283.7 671.7,283.8 671.6,283.8Z"/>
<path fill="#80ff00" stroke="#80ff00" d="M458.1,271.2 464.6,272.3 465.5,274.2 464.6,275.2 458.1,275.9 456.6,274.2ZM509.9,274.0 516.4,273.9 522.8,273.9 529.3,273.7 535.8,274.2 536.7,274.2 542.3,275.3 548.7,276.5 554.8,279.0 548.7,281.0 544.2,283.8 542.3,284.4 535.8,283.8 535.6,283.8 529.3,281.7 522.8,282.7 516.4,282.7 509.9,282.4 504.4,279.0 507.1,274.2ZM511.0,279.0 516.4,281.0 522.8,281.3 529.3,280.5 535.8,280.0 542.3,279.6 544.2,279.0 542.3,278.8 535.8,278.0 529.3,275.9 522.8,275.8 516.4,276.2ZM742.8,269.7 749.3,270.7 755.8,271.0 762.2,272.0 768.7,271.0 775.2,269.6 781.6,269.8 788.1,270.5 794.6,271.9 801.1,272.0 807.5,270.7 814.0,269.8 814.7,274.2 814.7,279.0 814.3,283.8 814.0,284.2 812.7,283.8 807.5,281.0 801.1,279.8 794.6,280.5 788.1,281.7 782.3,283.8 781.6,283.8 775.2,284.3 773.7,283.8 768.7,280.6 762.2,279.8 755.8,281.0 749.3,281.1 745.3,283.8 742.8,284.4 738.1,283.8 738.0,279.0 738.0,274.2ZM745.9,274.2 745.9,279.0 749.3,279.3 751.5,279.0 751.5,274.2 749.3,273.8ZM766.7,274.2 766.7,279.0 768.7,279.3 775.2,282.9 781.6,281.6 788.1,279.2 788.6,279.0 788.6,274.2 788.1,274.0 781.6,272.0 775.2,271.9 768.7,273.7ZM804.3,274.2 804.3,279.0 807.5,279.6 814.0,280.9 814.2,279.0 814.2,274.2 814.0,273.1 807.5,273.2Z"/>
<path fill="#bfff00" stroke="#bfff00" d="M749.3,273.8 751.5,274.2 751.5,279.0 749.3,279.3 745.9,279.0 745.9,274.2ZM768.7,273.7 775.2,271.9 781.6,272.0 788.1,274.0 788.6,274.2 788.6,279.0 788.1,279.2 781.6,281.6 775.2,282.9 768.7,279.3 766.7,279.0 766.7,274.2ZM774.6,274.2 774.6,279.0 775.2,279.3 781.6,279.2 782.2,279.0 782.2,274.2 781.6,274.1 775.2,274.1ZM807.5,273.2 814.0,273.1 814.2,274.2 814.2,279.0 814.0,280.9 807.5,279.6 804.3,279.0 804.3,274.2ZM516.4,276.2 522.8,275.8 529.3,275.9 535.8,278.0 542.3,278.8 544.2,279.0 542.3,279.6 535.8,280.0 529.3,280.5 522.8,281.3 516.4,281.0 511.0,279.0ZM515.4,279.0 516.4,279.4 522.8,279.9 529.3,279.3 530.9,279.0 529.3,278.4 522.8,277.8 516.4,278.5Z"/>
<path fill="#ffff00" stroke="#ffff00" d="M775.2,274.1 781.6,274.1 782.2,274.2 782.2,279.0 781.6,279.2 775.2,279.3 774.6,279.0 774.6,274.2ZM516.4,278.5 522.8,277.8 529.3,278.4 530.9,279.0 529.3,279.3 522.8,279.9 516.4,279.4 515.4,279.0Z"/>
</g>
<g stroke="#ededf6" stroke-width="1.6" fill="none">
<line x1="167.0" y1="279.8" x2="816.0" y2="279.8"/>
<line x1="167.0" y1="351.2" x2="816.0" y2="351.2"/>
</g>
<rect x="222" y="279.8" width="148.4" height="73.4" fill="#ff8800" stroke="#1c1408" stroke-width="1"/>
<rect x="222" y="353.2" width="148.4" height="168.3" fill="#888888" stroke="#141414" stroke-width="1"/>
<text transform="translate(291.90 325.50) scale(1 1.015)" font-size="28.6" text-anchor="middle" fill="#000">bronze</text>
<text transform="translate(294.00 399.40) scale(1 1.015)" font-size="28.6" text-anchor="middle" fill="#000">steel</text>
<g fill="#ffffff"><circle cx="459.7" cy="290.1" r="2.1"/><circle cx="461.0" cy="298.4" r="2.1"/><circle cx="462.1" cy="306.6" r="2.1"/><circle cx="463.4" cy="314.9" r="2.1"/><circle cx="464.5" cy="323.1" r="2.1"/><circle cx="465.6" cy="331.4" r="2.1"/><circle cx="466.7" cy="339.8" r="2.1"/><circle cx="468.0" cy="348.1" r="2.1"/></g>
<line x1="470.1" y1="348.3" x2="741.5" y2="482.2" stroke="#f01020" stroke-width="2.9" stroke-dasharray="15.6 16.4" stroke-linecap="butt"/>
<g fill="#fff" stroke="#fff" stroke-linejoin="round"><rect x="442.90" y="92" width="6.2" height="32.30" stroke="none"/><path d="M437.90 124.30 L454.10 124.30 L446.00 155.00 Z" stroke-width="4"/></g>
<g fill="#fff" stroke="#fff" stroke-linejoin="round"><rect x="520.00" y="92" width="6.2" height="32.30" stroke="none"/><path d="M515.00 124.30 L531.20 124.30 L523.10 155.00 Z" stroke-width="4"/></g>
<g fill="#fff" stroke="#fff" stroke-linejoin="round"><rect x="669.15" y="92" width="5.3" height="42.90" stroke="none"/><path d="M666.20 134.90 L677.40 134.90 L671.80 156.00 Z" stroke-width="4"/></g>
<g fill="#fff" stroke="#fff" stroke-linejoin="round"><path d="M469.8 366.5 L476.4 388 L463.2 388 Z" stroke-width="2.4"/><path d="M469.8 386 L469.8 420" stroke-width="5.4" stroke-linecap="round" fill="none"/></g>
<text transform="translate(409.20 161.00) scale(1 1.04)" font-size="39.5" fill="#fff">t</text><text transform="translate(419.80 175.50) scale(1 1)" font-size="22.5" fill="#fff">0</text>
<text transform="translate(489.30 166.80) scale(1 1.04)" font-size="39.5" fill="#fff">t</text><text transform="translate(499.90 181.30) scale(1 1)" font-size="22.5" fill="#fff">2</text>
<text transform="translate(638.70 162.50) scale(1 1.04)" font-size="39.5" fill="#fff">t</text><text transform="translate(649.30 177.00) scale(1 1)" font-size="22.5" fill="#fff">3</text>
<text transform="translate(468.30 468.20) scale(1 1.04)" font-size="39.5" fill="#fff">t</text><text transform="translate(478.90 482.70) scale(1 1)" font-size="22.5" fill="#fff">1</text>
<rect x="167.0" y="91.0" width="647.0" height="569.5" fill="none" stroke="#000" stroke-width="2.4"/>
<g stroke="#000" stroke-width="2.2" fill="none"><line x1="154.4" y1="91.00" x2="167.0" y2="91.00"/><line x1="160.2" y1="138.46" x2="167.0" y2="138.46"/><line x1="154.4" y1="185.92" x2="167.0" y2="185.92"/><line x1="160.2" y1="233.38" x2="167.0" y2="233.38"/><line x1="154.4" y1="280.83" x2="167.0" y2="280.83"/><line x1="160.2" y1="328.29" x2="167.0" y2="328.29"/><line x1="154.4" y1="375.75" x2="167.0" y2="375.75"/><line x1="160.2" y1="423.21" x2="167.0" y2="423.21"/><line x1="154.4" y1="470.67" x2="167.0" y2="470.67"/><line x1="160.2" y1="518.12" x2="167.0" y2="518.12"/><line x1="154.4" y1="565.58" x2="167.0" y2="565.58"/><line x1="160.2" y1="613.04" x2="167.0" y2="613.04"/><line x1="154.4" y1="660.50" x2="167.0" y2="660.50"/><line x1="199.35" y1="660.5" x2="199.35" y2="667.3"/><line x1="264.05" y1="660.5" x2="264.05" y2="673.1"/><line x1="328.75" y1="660.5" x2="328.75" y2="667.3"/><line x1="393.45" y1="660.5" x2="393.45" y2="673.1"/><line x1="458.15" y1="660.5" x2="458.15" y2="667.3"/><line x1="522.85" y1="660.5" x2="522.85" y2="673.1"/><line x1="587.55" y1="660.5" x2="587.55" y2="667.3"/><line x1="652.25" y1="660.5" x2="652.25" y2="673.1"/><line x1="716.95" y1="660.5" x2="716.95" y2="667.3"/><line x1="781.65" y1="660.5" x2="781.65" y2="673.1"/><line x1="189.25" y1="91.0" x2="189.25" y2="97.6"/><line x1="226.00" y1="91.0" x2="226.00" y2="103.2"/><line x1="262.75" y1="91.0" x2="262.75" y2="97.6"/><line x1="299.50" y1="91.0" x2="299.50" y2="103.2"/><line x1="336.25" y1="91.0" x2="336.25" y2="97.6"/><line x1="373.00" y1="91.0" x2="373.00" y2="103.2"/><line x1="409.75" y1="91.0" x2="409.75" y2="97.6"/><line x1="446.50" y1="91.0" x2="446.50" y2="103.2"/><line x1="483.25" y1="91.0" x2="483.25" y2="97.6"/><line x1="520.00" y1="91.0" x2="520.00" y2="103.2"/><line x1="556.75" y1="91.0" x2="556.75" y2="97.6"/><line x1="593.50" y1="91.0" x2="593.50" y2="103.2"/><line x1="630.25" y1="91.0" x2="630.25" y2="97.6"/><line x1="667.00" y1="91.0" x2="667.00" y2="103.2"/><line x1="703.75" y1="91.0" x2="703.75" y2="97.6"/><line x1="740.50" y1="91.0" x2="740.50" y2="103.2"/><line x1="777.25" y1="91.0" x2="777.25" y2="97.6"/></g>
<text transform="translate(146.90 99.60) scale(1 1.04)" font-size="31.2" text-anchor="end" fill="#000">200µ</text><text transform="translate(146.90 194.52) scale(1 1.04)" font-size="31.2" text-anchor="end" fill="#000">250µ</text><text transform="translate(146.90 289.43) scale(1 1.04)" font-size="31.2" text-anchor="end" fill="#000">300µ</text><text transform="translate(146.90 384.35) scale(1 1.04)" font-size="31.2" text-anchor="end" fill="#000">350µ</text><text transform="translate(146.90 479.27) scale(1 1.04)" font-size="31.2" text-anchor="end" fill="#000">400µ</text><text transform="translate(146.90 574.18) scale(1 1.04)" font-size="31.2" text-anchor="end" fill="#000">450µ</text><text transform="translate(146.90 669.10) scale(1 1.04)" font-size="31.2" text-anchor="end" fill="#000">500µ</text><text transform="translate(263.55 702.80) scale(1 1.06)" font-size="28.5" text-anchor="middle" fill="#000">400</text><text transform="translate(392.95 702.80) scale(1 1.06)" font-size="28.5" text-anchor="middle" fill="#000">600</text><text transform="translate(522.35 702.80) scale(1 1.06)" font-size="28.5" text-anchor="middle" fill="#000">800</text><text transform="translate(651.75 702.80) scale(1 1.06)" font-size="28.5" text-anchor="middle" fill="#000">1000</text><text transform="translate(781.15 702.80) scale(1 1.06)" font-size="28.5" text-anchor="middle" fill="#000">1200</text><text transform="translate(445.80 71.40) scale(1 1.04)" font-size="28.4" text-anchor="middle" fill="#000">0</text><text transform="translate(519.30 71.40) scale(1 1.04)" font-size="28.4" text-anchor="middle" fill="#000">500</text><text transform="translate(592.80 71.40) scale(1 1.04)" font-size="28.4" text-anchor="middle" fill="#000">1000</text><text transform="translate(666.30 71.40) scale(1 1.04)" font-size="28.4" text-anchor="middle" fill="#000">1500</text><text transform="translate(739.80 71.40) scale(1 1.04)" font-size="28.4" text-anchor="middle" fill="#000">2000</text><text transform="translate(813.30 71.40) scale(1 1.04)" font-size="28.4" text-anchor="middle" fill="#000">2500</text>
<text transform="translate(460.20 35.10) scale(1 1.015)" font-size="40.1" text-anchor="middle" fill="#000">Laser pulses</text>
<text transform="translate(490.60 765.50) scale(1 1.015)" font-size="44" text-anchor="middle" fill="#000">Elapsed time (ms)</text>
<text transform="translate(57.80 403.60) rotate(-90) scale(1 1.015)" font-size="43.9" text-anchor="middle" fill="#000">Backscattering profile (m)</text>
<text transform="translate(-1.40 45.60) scale(0.93 1.015)" font-size="62.6" fill="#000">a</text>
<text transform="translate(35.60 45.60) scale(1 1.015)" font-size="62.6" fill="#000">)</text>
<g shape-rendering="crispEdges"><rect x="828.7" y="99.10" width="44.4" height="18.75" fill="#0000ff"/><rect x="828.7" y="117.25" width="44.4" height="18.75" fill="#0000ff"/><rect x="828.7" y="135.40" width="44.4" height="18.75" fill="#0033ff"/><rect x="828.7" y="153.54" width="44.4" height="18.75" fill="#0066ff"/><rect x="828.7" y="171.69" width="44.4" height="18.75" fill="#0099ff"/><rect x="828.7" y="189.84" width="44.4" height="18.75" fill="#00ccff"/><rect x="828.7" y="207.99" width="44.4" height="18.75" fill="#00ffff"/><rect x="828.7" y="226.13" width="44.4" height="18.75" fill="#00ffcc"/><rect x="828.7" y="244.28" width="44.4" height="18.75" fill="#00ff99"/><rect x="828.7" y="262.43" width="44.4" height="18.75" fill="#00ff66"/><rect x="828.7" y="280.58" width="44.4" height="18.75" fill="#00ff33"/><rect x="828.7" y="298.72" width="44.4" height="18.75" fill="#00ff00"/><rect x="828.7" y="316.87" width="44.4" height="18.75" fill="#40ff00"/><rect x="828.7" y="335.02" width="44.4" height="18.75" fill="#80ff00"/><rect x="828.7" y="353.17" width="44.4" height="18.75" fill="#bfff00"/><rect x="828.7" y="371.31" width="44.4" height="18.75" fill="#ffff00"/><rect x="828.7" y="389.46" width="44.4" height="18.75" fill="#ffcc00"/><rect x="828.7" y="407.61" width="44.4" height="18.75" fill="#ff9900"/><rect x="828.7" y="425.76" width="44.4" height="18.75" fill="#ff6600"/><rect x="828.7" y="443.90" width="44.4" height="18.75" fill="#ff3300"/><rect x="828.7" y="462.05" width="44.4" height="18.75" fill="#ff0000"/></g>
<text transform="translate(895.40 127.40) scale(1 1.015)" font-size="33.6" fill="#000">low</text>
<text transform="translate(884.60 471.80) scale(1 1.015)" font-size="34.2" fill="#000">high</text>
<text transform="translate(911.40 294.60) rotate(-90) scale(1 1.015)" font-size="33.4" text-anchor="middle" fill="#000">Signal Intensity</text>
<text transform="translate(-1.60 846.00) scale(1 1.015)" font-size="62.6" fill="#000">b</text>
<text transform="translate(36.20 846.00) scale(1 1.015)" font-size="62.6" fill="#000">)</text>
<text transform="translate(28.90 1045.20) rotate(-90) scale(1 1.015)" font-size="29.1" text-anchor="middle" fill="#000">Light scattering profile</text>
<defs>
<linearGradient id="beamg" x1="0" y1="0" x2="1" y2="0"><stop offset="0" stop-color="#ffffff"/><stop offset="0.465" stop-color="#a20d0d"/><stop offset="0.5" stop-color="#9b0707"/><stop offset="0.535" stop-color="#a20d0d"/><stop offset="1" stop-color="#ffffff"/></linearGradient>
</defs>
<line x1="465" y1="1145.6" x2="999" y2="1145.6" stroke="#d4d4d4" stroke-width="1"/>
<rect x="98.5" y="1125.5" width="146.7" height="46.8" fill="#696969"/>
<rect x="98.5" y="1119.6" width="146.7" height="6.4" fill="#ff6633"/>
<clipPath id="bc0"><path d="M85.4 909.2 L90.3 915.2 L94.8 921.2 L99.1 927.2 L103.0 933.2 L106.7 939.3 L110.0 945.3 L113.1 951.3 L115.8 957.3 L118.2 963.3 L120.4 969.3 L122.2 975.3 L123.7 981.3 L124.9 987.3 L126.0 993.4 L127.1 999.4 L128.2 1005.4 L129.2 1011.4 L130.2 1017.4 L131.2 1023.4 L132.1 1029.4 L133.0 1035.4 L133.9 1041.5 L134.7 1047.5 L135.4 1053.5 L136.1 1059.5 L136.7 1065.5 L137.3 1071.5 L137.8 1077.5 L138.2 1083.5 L138.6 1089.5 L138.9 1095.6 L139.1 1101.6 L139.2 1107.6 L139.2 1113.6 L139.2 1119.6 L205.8 1119.6 L205.9 1113.6 L206.1 1107.6 L206.4 1101.6 L206.8 1095.6 L207.2 1089.5 L207.7 1083.5 L208.3 1077.5 L209.0 1071.5 L209.7 1065.5 L210.5 1059.5 L211.4 1053.5 L212.3 1047.5 L213.2 1041.5 L214.2 1035.4 L215.3 1029.4 L216.4 1023.4 L217.5 1017.4 L218.7 1011.4 L219.9 1005.4 L221.1 999.4 L222.4 993.4 L223.7 987.3 L225.1 981.3 L226.7 975.3 L228.7 969.3 L231.0 963.3 L233.6 957.3 L236.5 951.3 L239.7 945.3 L243.2 939.3 L247.0 933.2 L251.1 927.2 L255.5 921.2 L260.3 915.2 L265.3 909.2 Z"/></clipPath>
<g clip-path="url(#bc0)"><rect x="113.4" y="909.2" width="122.6" height="240" fill="#fff"/><rect x="113.4" y="909.2" width="122.6" height="240" fill="url(#beamg)"/></g>
<g fill="#ffffff" fill-opacity="0.72"><path transform="translate(154.3 1019.7)" d="M-1.85 -48.6 H1.85 V-11.0 L6.4 -15.6 L0 0.4 L-6.4 -15.6 L-1.85 -11.0 Z"/><path transform="translate(173.6 1019.7)" d="M-1.85 -48.6 H1.85 V-11.0 L6.4 -15.6 L0 0.4 L-6.4 -15.6 L-1.85 -11.0 Z"/><path transform="translate(194.2 1019.7)" d="M-1.85 -48.6 H1.85 V-11.0 L6.4 -15.6 L0 0.4 L-6.4 -15.6 L-1.85 -11.0 Z"/><path d="M150.8 1119.6 V1101.2 L146.4 1103.8 L152.6 1094.3 L158.8 1103.8 L154.4 1101.2 V1119.6 Z"/><path d="M171.6 1119.6 V1101.2 L167.2 1103.8 L173.4 1094.3 L179.6 1103.8 L175.2 1101.2 V1119.6 Z"/><path d="M190.2 1119.6 V1101.2 L185.9 1103.8 L192.1 1094.3 L198.3 1103.8 L193.9 1101.2 V1119.6 Z"/></g>
<line x1="50.8" y1="966.3" x2="50.8" y2="1203" stroke="#000" stroke-width="2.9"/>
<path d="M44.9 1202.4 L56.7 1202.4 L50.8 1212.6 Z" fill="#000"/>
<path d="M54.5 962.4 L54.5 1114.4 L54.5 1114.7 L54.6 1115.0 L54.7 1115.3 L54.9 1115.6 L55.3 1115.9 L55.9 1116.2 L57.1 1116.5 L58.9 1116.8 L61.5 1117.1 L65.1 1117.4 L69.6 1117.7 L74.8 1118.0 L80.3 1118.3 L85.5 1118.6 L89.6 1118.9 L92.0 1119.2 L92.4 1119.5 L90.6 1119.8 L87.0 1120.1 L82.1 1120.4 L76.6 1120.7 L71.2 1121.0 L66.5 1121.3 L62.6 1121.6 L59.6 1121.9 L57.6 1122.2 L56.3 1122.5 L55.4 1122.8 L55.0 1123.1 L54.7 1123.4 L54.6 1123.7 L54.5 1124.0 L54.5 1124.3 L54.5 1199.6" fill="none" stroke="#990000" stroke-width="3.1" stroke-linecap="round" stroke-linejoin="round"/>
<text transform="translate(49.60 949.80) scale(1 1.04)" font-size="44.5" fill="#000">t</text><text transform="translate(62.80 956.20) scale(1 1.04)" font-size="30" fill="#000">0</text>
<rect x="313.3" y="1125.5" width="146.7" height="46.8" fill="#696969"/>
<rect x="313.3" y="1119.6" width="146.7" height="6.4" fill="#ff6633"/>
<clipPath id="bc1"><path d="M299.4 909.2 L304.3 915.2 L308.8 921.2 L313.1 927.2 L317.0 933.2 L320.7 939.3 L324.0 945.3 L327.1 951.3 L329.8 957.3 L332.2 963.3 L334.4 969.3 L336.2 975.3 L337.7 981.3 L338.9 987.3 L340.0 993.4 L341.1 999.4 L342.2 1005.4 L343.2 1011.4 L344.2 1017.4 L345.2 1023.4 L346.1 1029.4 L347.0 1035.4 L347.9 1041.5 L348.7 1047.5 L349.4 1053.5 L350.1 1059.5 L350.7 1065.5 L351.3 1071.5 L351.8 1077.5 L352.2 1083.5 L352.6 1089.5 L352.9 1095.6 L353.1 1101.6 L353.2 1107.6 L353.2 1113.6 L353.2 1119.6 L367.3 1119.6 L367.3 1126.3 L405.7 1126.3 L405.7 1119.6 L419.8 1119.6 L419.9 1113.6 L420.1 1107.6 L420.4 1101.6 L420.8 1095.6 L421.2 1089.5 L421.7 1083.5 L422.3 1077.5 L423.0 1071.5 L423.7 1065.5 L424.5 1059.5 L425.4 1053.5 L426.3 1047.5 L427.2 1041.5 L428.2 1035.4 L429.3 1029.4 L430.4 1023.4 L431.5 1017.4 L432.7 1011.4 L433.9 1005.4 L435.1 999.4 L436.4 993.4 L437.7 987.3 L439.1 981.3 L440.7 975.3 L442.7 969.3 L445.0 963.3 L447.6 957.3 L450.5 951.3 L453.7 945.3 L457.2 939.3 L461.0 933.2 L465.1 927.2 L469.5 921.2 L474.3 915.2 L479.3 909.2 Z"/></clipPath>
<g clip-path="url(#bc1)"><rect x="327.7" y="909.2" width="122.6" height="240" fill="#fff"/><rect x="327.7" y="909.2" width="122.6" height="240" fill="url(#beamg)"/></g>
<g fill="#ffffff" fill-opacity="0.72"><path transform="translate(367.3 1019.7)" d="M-1.85 -48.6 H1.85 V-11.0 L6.4 -15.6 L0 0.4 L-6.4 -15.6 L-1.85 -11.0 Z"/><path transform="translate(386.0 1019.7)" d="M-1.85 -48.6 H1.85 V-11.0 L6.4 -15.6 L0 0.4 L-6.4 -15.6 L-1.85 -11.0 Z"/><path transform="translate(407.0 1019.7)" d="M-1.85 -48.6 H1.85 V-11.0 L6.4 -15.6 L0 0.4 L-6.4 -15.6 L-1.85 -11.0 Z"/><path d="M362.8 1119.6 V1101.2 L358.5 1103.8 L364.7 1094.3 L370.9 1103.8 L366.6 1101.2 V1119.6 Z"/><path d="M384.1 1126.0 V1107.6 L379.8 1110.2 L386.0 1100.7 L392.2 1110.2 L387.9 1107.6 V1126.0 Z"/><path d="M406.5 1119.6 V1101.2 L402.2 1103.8 L408.4 1094.3 L414.6 1103.8 L410.2 1101.2 V1119.6 Z"/></g>
<line x1="261.8" y1="966.3" x2="261.8" y2="1203" stroke="#000" stroke-width="2.9"/>
<path d="M255.9 1202.4 L267.7 1202.4 L261.8 1212.6 Z" fill="#000"/>
<path d="M265.4 962.4 L265.4 1114.0 L265.4 1114.3 L265.4 1114.6 L265.5 1114.9 L265.7 1115.2 L265.9 1115.5 L266.5 1115.8 L267.4 1116.1 L269.0 1116.4 L271.5 1116.7 L274.9 1117.0 L279.3 1117.3 L284.6 1117.6 L290.4 1117.9 L295.8 1118.2 L300.2 1118.5 L302.9 1118.8 L303.3 1119.1 L301.3 1119.4 L297.5 1119.7 L292.3 1120.0 L286.5 1120.3 L281.0 1120.6 L276.3 1120.9 L272.5 1121.2 L269.8 1121.5 L267.9 1121.8 L266.8 1122.1 L266.3 1122.4 L266.2 1122.7 L266.5 1123.0 L267.2 1123.3 L268.4 1123.6 L270.3 1123.9 L272.8 1124.2 L275.9 1124.5 L279.3 1124.8 L282.7 1125.1 L285.4 1125.4 L287.1 1125.7 L287.3 1126.0 L286.1 1126.3 L283.7 1126.6 L280.5 1126.9 L277.0 1127.2 L273.8 1127.5 L271.0 1127.8 L268.9 1128.1 L267.5 1128.4 L266.5 1128.7 L266.0 1129.0 L265.7 1129.3 L265.5 1129.6 L265.5 1129.9 L265.4 1130.2 L265.4 1130.5 L265.4 1130.8 L265.4 1199.6" fill="none" stroke="#990000" stroke-width="3.1" stroke-linecap="round" stroke-linejoin="round"/>
<text transform="translate(258.80 949.80) scale(1 1.04)" font-size="44.5" fill="#000">t</text><text transform="translate(272.00 956.20) scale(1 1.04)" font-size="30" fill="#000">1</text>
<rect x="539.3" y="1125.5" width="146.7" height="46.8" fill="#696969"/>
<rect x="539.3" y="1119.6" width="146.7" height="6.4" fill="#ff6633"/>
<clipPath id="bc2"><path d="M526.2 909.2 L531.1 915.2 L535.6 921.2 L539.9 927.2 L543.8 933.2 L547.5 939.3 L550.8 945.3 L553.9 951.3 L556.6 957.3 L559.0 963.3 L561.2 969.3 L563.0 975.3 L564.5 981.3 L565.7 987.3 L566.8 993.4 L567.9 999.4 L569.0 1005.4 L570.0 1011.4 L571.0 1017.4 L572.0 1023.4 L572.9 1029.4 L573.8 1035.4 L574.7 1041.5 L575.5 1047.5 L576.2 1053.5 L576.9 1059.5 L577.5 1065.5 L578.1 1071.5 L578.6 1077.5 L579.0 1083.5 L579.4 1089.5 L579.7 1095.6 L579.9 1101.6 L580.0 1107.6 L580.0 1113.6 L580.0 1119.6 L593.0 1119.6 L593.0 1133.8 L631.7 1133.8 L631.7 1119.6 L646.6 1119.6 L646.7 1113.6 L646.9 1107.6 L647.2 1101.6 L647.6 1095.6 L648.0 1089.5 L648.5 1083.5 L649.1 1077.5 L649.8 1071.5 L650.5 1065.5 L651.3 1059.5 L652.2 1053.5 L653.1 1047.5 L654.0 1041.5 L655.0 1035.4 L656.1 1029.4 L657.2 1023.4 L658.3 1017.4 L659.5 1011.4 L660.7 1005.4 L661.9 999.4 L663.2 993.4 L664.5 987.3 L665.9 981.3 L667.5 975.3 L669.5 969.3 L671.8 963.3 L674.4 957.3 L677.3 951.3 L680.5 945.3 L684.0 939.3 L687.8 933.2 L691.9 927.2 L696.3 921.2 L701.1 915.2 L706.1 909.2 Z"/></clipPath>
<g clip-path="url(#bc2)"><rect x="554.0" y="909.2" width="122.6" height="240" fill="#fff"/><rect x="554.0" y="909.2" width="122.6" height="240" fill="url(#beamg)"/></g>
<g fill="#ffffff" fill-opacity="0.72"><path transform="translate(593.3 1019.7)" d="M-1.85 -48.6 H1.85 V-11.0 L6.4 -15.6 L0 0.4 L-6.4 -15.6 L-1.85 -11.0 Z"/><path transform="translate(612.0 1019.7)" d="M-1.85 -48.6 H1.85 V-11.0 L6.4 -15.6 L0 0.4 L-6.4 -15.6 L-1.85 -11.0 Z"/><path transform="translate(633.0 1019.7)" d="M-1.85 -48.6 H1.85 V-11.0 L6.4 -15.6 L0 0.4 L-6.4 -15.6 L-1.85 -11.0 Z"/><path d="M588.9 1119.6 V1101.2 L584.5 1103.8 L590.7 1094.3 L596.9 1103.8 L592.6 1101.2 V1119.6 Z"/><path d="M609.4 1133.4 V1115.6 L605.0 1118.2 L611.2 1108.7 L617.4 1118.2 L613.1 1115.6 V1133.4 Z"/><path d="M632.5 1119.6 V1101.2 L628.2 1103.8 L634.4 1094.3 L640.6 1103.8 L636.2 1101.2 V1119.6 Z"/></g>
<line x1="487.8" y1="966.3" x2="487.8" y2="1203" stroke="#000" stroke-width="2.9"/>
<path d="M481.9 1202.4 L493.7 1202.4 L487.8 1212.6 Z" fill="#000"/>
<path d="M491.4 962.4 L491.4 1114.0 L491.4 1114.3 L491.5 1114.6 L491.6 1114.9 L491.8 1115.2 L492.2 1115.5 L492.9 1115.8 L494.0 1116.1 L495.8 1116.4 L498.5 1116.7 L502.1 1117.0 L506.7 1117.3 L512.0 1117.6 L517.5 1117.9 L522.8 1118.2 L526.9 1118.5 L529.4 1118.8 L529.8 1119.1 L528.0 1119.4 L524.3 1119.7 L519.4 1120.0 L513.8 1120.3 L508.4 1120.6 L503.5 1120.9 L499.6 1121.2 L496.6 1121.5 L494.5 1121.8 L493.2 1122.1 L492.4 1122.4 L491.9 1122.7 L491.6 1123.0 L491.5 1123.3 L491.4 1123.6 L491.4 1123.9 L491.4 1124.2 L491.4 1124.5 L491.4 1124.8 L491.4 1125.1 L491.4 1125.4 L491.4 1125.7 L491.4 1126.0 L491.4 1126.3 L491.4 1126.6 L491.4 1126.9 L491.4 1127.2 L491.4 1127.5 L491.4 1127.8 L491.4 1128.1 L491.4 1128.4 L491.4 1128.7 L491.4 1129.0 L491.5 1129.3 L491.6 1129.6 L491.8 1129.9 L492.2 1130.2 L492.9 1130.5 L494.1 1130.8 L495.8 1131.1 L498.1 1131.4 L501.1 1131.7 L504.5 1132.0 L508.0 1132.3 L511.2 1132.6 L513.6 1132.9 L514.8 1133.2 L514.6 1133.5 L512.9 1133.8 L510.2 1134.1 L506.8 1134.4 L503.3 1134.7 L500.0 1135.0 L497.3 1135.3 L495.1 1135.6 L493.6 1135.9 L492.7 1136.2 L492.1 1136.5 L491.7 1136.8 L491.6 1137.1 L491.5 1137.4 L491.4 1137.7 L491.4 1138.0 L491.4 1138.3 L491.4 1199.6" fill="none" stroke="#990000" stroke-width="3.1" stroke-linecap="round" stroke-linejoin="round"/>
<text transform="translate(485.20 949.80) scale(1 1.04)" font-size="44.5" fill="#000">t</text><text transform="translate(498.40 956.20) scale(1 1.04)" font-size="30" fill="#000">2</text>
<rect x="754.0" y="1125.5" width="146.7" height="46.8" fill="#696969"/>
<rect x="754.0" y="1119.6" width="146.7" height="6.4" fill="#ff6633"/>
<clipPath id="bc3"><path d="M739.2 909.2 L744.1 915.2 L748.6 921.2 L752.9 927.2 L756.8 933.2 L760.5 939.3 L763.8 945.3 L766.9 951.3 L769.6 957.3 L772.0 963.3 L774.2 969.3 L776.0 975.3 L777.5 981.3 L778.7 987.3 L779.8 993.4 L780.9 999.4 L782.0 1005.4 L783.0 1011.4 L784.0 1017.4 L785.0 1023.4 L785.9 1029.4 L786.8 1035.4 L787.7 1041.5 L788.5 1047.5 L789.2 1053.5 L789.9 1059.5 L790.5 1065.5 L791.1 1071.5 L791.6 1077.5 L792.0 1083.5 L792.4 1089.5 L792.7 1095.6 L792.9 1101.6 L793.0 1107.6 L793.0 1113.6 L793.0 1119.6 L808.2 1119.6 L808.2 1140.4 L846.8 1140.4 L846.8 1119.6 L859.6 1119.6 L859.7 1113.6 L859.9 1107.6 L860.2 1101.6 L860.6 1095.6 L861.0 1089.5 L861.5 1083.5 L862.1 1077.5 L862.8 1071.5 L863.5 1065.5 L864.3 1059.5 L865.2 1053.5 L866.1 1047.5 L867.0 1041.5 L868.0 1035.4 L869.1 1029.4 L870.2 1023.4 L871.3 1017.4 L872.5 1011.4 L873.7 1005.4 L874.9 999.4 L876.2 993.4 L877.5 987.3 L878.9 981.3 L880.5 975.3 L882.5 969.3 L884.8 963.3 L887.4 957.3 L890.3 951.3 L893.5 945.3 L897.0 939.3 L900.8 933.2 L904.9 927.2 L909.3 921.2 L914.1 915.2 L919.1 909.2 Z"/></clipPath>
<g clip-path="url(#bc3)"><rect x="766.7" y="909.2" width="122.6" height="240" fill="#fff"/><rect x="766.7" y="909.2" width="122.6" height="240" fill="url(#beamg)"/></g>
<g fill="#ffffff" fill-opacity="0.72"><path transform="translate(805.0 1019.7)" d="M-1.85 -48.6 H1.85 V-11.0 L6.4 -15.6 L0 0.4 L-6.4 -15.6 L-1.85 -11.0 Z"/><path transform="translate(823.6 1019.7)" d="M-1.85 -48.6 H1.85 V-11.0 L6.4 -15.6 L0 0.4 L-6.4 -15.6 L-1.85 -11.0 Z"/><path transform="translate(844.0 1019.7)" d="M-1.85 -48.6 H1.85 V-11.0 L6.4 -15.6 L0 0.4 L-6.4 -15.6 L-1.85 -11.0 Z"/><path d="M804.1 1119.6 V1101.4 L799.8 1104.0 L806.0 1094.5 L812.2 1104.0 L807.9 1101.4 V1119.6 Z"/><path d="M824.9 1139.8 V1121.5 L820.5 1124.1 L826.7 1114.6 L832.9 1124.1 L828.6 1121.5 V1139.8 Z"/><path d="M847.4 1119.6 V1101.4 L843.1 1104.0 L849.3 1094.5 L855.5 1104.0 L851.1 1101.4 V1119.6 Z"/></g>
<line x1="704.5" y1="966.3" x2="704.5" y2="1203" stroke="#000" stroke-width="2.9"/>
<path d="M698.6 1202.4 L710.4 1202.4 L704.5 1212.6 Z" fill="#000"/>
<path d="M709.2 962.4 L709.2 1114.8 L709.2 1115.1 L709.3 1115.4 L709.4 1115.7 L709.6 1116.0 L710.0 1116.3 L710.6 1116.6 L711.8 1116.9 L713.6 1117.2 L716.2 1117.5 L719.8 1117.8 L724.3 1118.1 L729.5 1118.4 L735.0 1118.7 L740.2 1119.0 L744.3 1119.3 L746.7 1119.6 L747.1 1119.9 L745.3 1120.2 L741.7 1120.5 L736.8 1120.8 L731.3 1121.1 L725.9 1121.4 L721.2 1121.7 L717.3 1122.0 L714.3 1122.3 L712.3 1122.6 L711.0 1122.9 L710.1 1123.2 L709.7 1123.5 L709.4 1123.8 L709.3 1124.1 L709.2 1124.4 L709.2 1124.7 L709.2 1125.0 L709.2 1125.3 L709.2 1125.6 L709.2 1125.9 L709.2 1126.2 L709.2 1126.5 L709.2 1126.8 L709.2 1127.1 L709.2 1127.4 L709.2 1127.7 L709.2 1128.0 L709.2 1128.3 L709.2 1128.6 L709.2 1128.9 L709.2 1129.2 L709.2 1129.5 L709.2 1129.8 L709.2 1130.1 L709.2 1130.4 L709.2 1130.7 L709.2 1131.0 L709.2 1131.3 L709.2 1131.6 L709.2 1131.9 L709.2 1132.2 L709.2 1132.5 L709.2 1132.8 L709.2 1133.1 L709.2 1133.4 L709.2 1133.7 L709.2 1134.0 L709.2 1134.3 L709.2 1134.6 L709.2 1134.9 L709.2 1135.2 L709.3 1135.5 L709.3 1135.8 L709.5 1136.1 L709.8 1136.4 L710.4 1136.7 L711.3 1137.0 L712.7 1137.3 L714.7 1137.6 L717.3 1137.9 L720.3 1138.2 L723.7 1138.5 L726.8 1138.8 L729.4 1139.1 L730.9 1139.4 L731.1 1139.7 L730.0 1140.0 L727.8 1140.3 L724.7 1140.6 L721.4 1140.9 L718.2 1141.2 L715.5 1141.5 L713.3 1141.8 L711.7 1142.1 L710.6 1142.4 L710.0 1142.7 L709.6 1143.0 L709.4 1143.3 L709.3 1143.6 L709.2 1143.9 L709.2 1144.2 L709.2 1144.5 L709.2 1199.6" fill="none" stroke="#990000" stroke-width="3.1" stroke-linecap="round" stroke-linejoin="round"/>
<text transform="translate(694.20 949.80) scale(1 1.04)" font-size="44.5" fill="#000">t</text><text transform="translate(707.40 956.20) scale(1 1.04)" font-size="30" fill="#000">3</text>
<line x1="919.4" y1="1147.6" x2="978" y2="1147.6" stroke="#000" stroke-width="5.2"/>
<path d="M993.0 1147.7 L967.2 1139.2 L976.0 1147.7 L967.2 1156.4 Z" fill="#000"/>
<text transform="translate(928.00 1180.80) scale(1 1)" font-size="24.8" fill="#000">Time</text>
</svg>
</body>
</html>
